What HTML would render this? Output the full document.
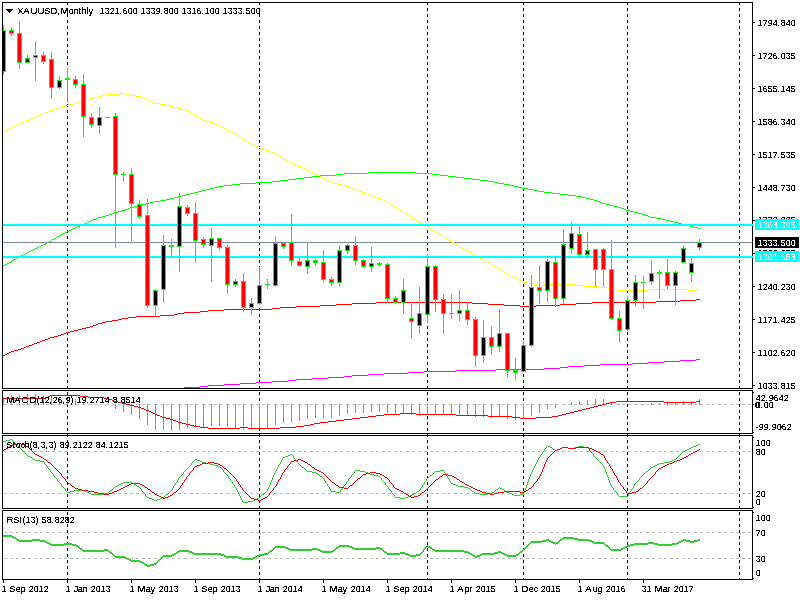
<!DOCTYPE html>
<html lang="en"><head><meta charset="utf-8"><title>XAUUSD, Monthly</title>
<style>
html,body{margin:0;padding:0;background:#fff;width:800px;height:600px;overflow:hidden}
svg{display:block;position:absolute;left:0;top:0}
text{font-family:"Liberation Sans","DejaVu Sans",sans-serif;font-size:9.5px;fill:#000;white-space:pre}
.w{fill:#fff}
</style></head>
<body>
<svg width="800" height="600" viewBox="0 0 800 600" shape-rendering="crispEdges" stroke-width="1">
<rect width="800" height="600" fill="#fff"/>
<g id="separators"><path d="M67.5 3v2M67.5 8v3M67.5 14v3M67.5 20v3M67.5 26v3M67.5 32v3M67.5 38v3M67.5 44v3M67.5 50v3M67.5 56v3M67.5 62v3M67.5 68v3M67.5 74v3M67.5 80v3M67.5 86v3M67.5 92v3M67.5 98v3M67.5 104v3M67.5 110v3M67.5 116v3M67.5 122v3M67.5 128v3M67.5 134v3M67.5 140v3M67.5 146v3M67.5 152v3M67.5 158v3M67.5 164v3M67.5 170v3M67.5 176v3M67.5 182v3M67.5 188v3M67.5 194v3M67.5 200v3M67.5 206v3M67.5 212v3M67.5 218v3M67.5 224v3M67.5 230v3M67.5 236v3M67.5 242v3M67.5 248v3M67.5 254v3M67.5 260v3M67.5 266v3M67.5 272v3M67.5 278v3M67.5 284v3M67.5 290v3M67.5 296v3M67.5 302v3M67.5 308v3M67.5 314v3M67.5 320v3M67.5 326v3M67.5 332v3M67.5 338v3M67.5 344v3M67.5 350v3M67.5 356v3M67.5 362v3M67.5 368v3M67.5 374v3M67.5 380v3M67.5 386v3M67.5 392v3M67.5 398v3M67.5 404v3M67.5 410v3M67.5 416v3M67.5 422v3M67.5 428v3M67.5 434v3M67.5 440v3M67.5 446v3M67.5 452v3M67.5 458v3M67.5 464v3M67.5 470v3M67.5 476v3M67.5 482v3M67.5 488v3M67.5 494v3M67.5 500v3M67.5 506v3M67.5 512v3M67.5 518v3M67.5 524v3M67.5 530v3M67.5 536v3M67.5 542v3M67.5 548v3M67.5 554v3M67.5 560v3M67.5 566v3M67.5 572v3M67.5 578v1M259.5 3v2M259.5 8v3M259.5 14v3M259.5 20v3M259.5 26v3M259.5 32v3M259.5 38v3M259.5 44v3M259.5 50v3M259.5 56v3M259.5 62v3M259.5 68v3M259.5 74v3M259.5 80v3M259.5 86v3M259.5 92v3M259.5 98v3M259.5 104v3M259.5 110v3M259.5 116v3M259.5 122v3M259.5 128v3M259.5 134v3M259.5 140v3M259.5 146v3M259.5 152v3M259.5 158v3M259.5 164v3M259.5 170v3M259.5 176v3M259.5 182v3M259.5 188v3M259.5 194v3M259.5 200v3M259.5 206v3M259.5 212v3M259.5 218v3M259.5 224v3M259.5 230v3M259.5 236v3M259.5 242v3M259.5 248v3M259.5 254v3M259.5 260v3M259.5 266v3M259.5 272v3M259.5 278v3M259.5 284v3M259.5 290v3M259.5 296v3M259.5 302v3M259.5 308v3M259.5 314v3M259.5 320v3M259.5 326v3M259.5 332v3M259.5 338v3M259.5 344v3M259.5 350v3M259.5 356v3M259.5 362v3M259.5 368v3M259.5 374v3M259.5 380v3M259.5 386v3M259.5 392v3M259.5 398v3M259.5 404v3M259.5 410v3M259.5 416v3M259.5 422v3M259.5 428v3M259.5 434v3M259.5 440v3M259.5 446v3M259.5 452v3M259.5 458v3M259.5 464v3M259.5 470v3M259.5 476v3M259.5 482v3M259.5 488v3M259.5 494v3M259.5 500v3M259.5 506v3M259.5 512v3M259.5 518v3M259.5 524v3M259.5 530v3M259.5 536v3M259.5 542v3M259.5 548v3M259.5 554v3M259.5 560v3M259.5 566v3M259.5 572v3M259.5 578v1M427.5 3v2M427.5 8v3M427.5 14v3M427.5 20v3M427.5 26v3M427.5 32v3M427.5 38v3M427.5 44v3M427.5 50v3M427.5 56v3M427.5 62v3M427.5 68v3M427.5 74v3M427.5 80v3M427.5 86v3M427.5 92v3M427.5 98v3M427.5 104v3M427.5 110v3M427.5 116v3M427.5 122v3M427.5 128v3M427.5 134v3M427.5 140v3M427.5 146v3M427.5 152v3M427.5 158v3M427.5 164v3M427.5 170v3M427.5 176v3M427.5 182v3M427.5 188v3M427.5 194v3M427.5 200v3M427.5 206v3M427.5 212v3M427.5 218v3M427.5 224v3M427.5 230v3M427.5 236v3M427.5 242v3M427.5 248v3M427.5 254v3M427.5 260v3M427.5 266v3M427.5 272v3M427.5 278v3M427.5 284v3M427.5 290v3M427.5 296v3M427.5 302v3M427.5 308v3M427.5 314v3M427.5 320v3M427.5 326v3M427.5 332v3M427.5 338v3M427.5 344v3M427.5 350v3M427.5 356v3M427.5 362v3M427.5 368v3M427.5 374v3M427.5 380v3M427.5 386v3M427.5 392v3M427.5 398v3M427.5 404v3M427.5 410v3M427.5 416v3M427.5 422v3M427.5 428v3M427.5 434v3M427.5 440v3M427.5 446v3M427.5 452v3M427.5 458v3M427.5 464v3M427.5 470v3M427.5 476v3M427.5 482v3M427.5 488v3M427.5 494v3M427.5 500v3M427.5 506v3M427.5 512v3M427.5 518v3M427.5 524v3M427.5 530v3M427.5 536v3M427.5 542v3M427.5 548v3M427.5 554v3M427.5 560v3M427.5 566v3M427.5 572v3M427.5 578v1M523.5 3v2M523.5 8v3M523.5 14v3M523.5 20v3M523.5 26v3M523.5 32v3M523.5 38v3M523.5 44v3M523.5 50v3M523.5 56v3M523.5 62v3M523.5 68v3M523.5 74v3M523.5 80v3M523.5 86v3M523.5 92v3M523.5 98v3M523.5 104v3M523.5 110v3M523.5 116v3M523.5 122v3M523.5 128v3M523.5 134v3M523.5 140v3M523.5 146v3M523.5 152v3M523.5 158v3M523.5 164v3M523.5 170v3M523.5 176v3M523.5 182v3M523.5 188v3M523.5 194v3M523.5 200v3M523.5 206v3M523.5 212v3M523.5 218v3M523.5 224v3M523.5 230v3M523.5 236v3M523.5 242v3M523.5 248v3M523.5 254v3M523.5 260v3M523.5 266v3M523.5 272v3M523.5 278v3M523.5 284v3M523.5 290v3M523.5 296v3M523.5 302v3M523.5 308v3M523.5 314v3M523.5 320v3M523.5 326v3M523.5 332v3M523.5 338v3M523.5 344v3M523.5 350v3M523.5 356v3M523.5 362v3M523.5 368v3M523.5 374v3M523.5 380v3M523.5 386v3M523.5 392v3M523.5 398v3M523.5 404v3M523.5 410v3M523.5 416v3M523.5 422v3M523.5 428v3M523.5 434v3M523.5 440v3M523.5 446v3M523.5 452v3M523.5 458v3M523.5 464v3M523.5 470v3M523.5 476v3M523.5 482v3M523.5 488v3M523.5 494v3M523.5 500v3M523.5 506v3M523.5 512v3M523.5 518v3M523.5 524v3M523.5 530v3M523.5 536v3M523.5 542v3M523.5 548v3M523.5 554v3M523.5 560v3M523.5 566v3M523.5 572v3M523.5 578v1M627.5 3v2M627.5 8v3M627.5 14v3M627.5 20v3M627.5 26v3M627.5 32v3M627.5 38v3M627.5 44v3M627.5 50v3M627.5 56v3M627.5 62v3M627.5 68v3M627.5 74v3M627.5 80v3M627.5 86v3M627.5 92v3M627.5 98v3M627.5 104v3M627.5 110v3M627.5 116v3M627.5 122v3M627.5 128v3M627.5 134v3M627.5 140v3M627.5 146v3M627.5 152v3M627.5 158v3M627.5 164v3M627.5 170v3M627.5 176v3M627.5 182v3M627.5 188v3M627.5 194v3M627.5 200v3M627.5 206v3M627.5 212v3M627.5 218v3M627.5 224v3M627.5 230v3M627.5 236v3M627.5 242v3M627.5 248v3M627.5 254v3M627.5 260v3M627.5 266v3M627.5 272v3M627.5 278v3M627.5 284v3M627.5 290v3M627.5 296v3M627.5 302v3M627.5 308v3M627.5 314v3M627.5 320v3M627.5 326v3M627.5 332v3M627.5 338v3M627.5 344v3M627.5 350v3M627.5 356v3M627.5 362v3M627.5 368v3M627.5 374v3M627.5 380v3M627.5 386v3M627.5 392v3M627.5 398v3M627.5 404v3M627.5 410v3M627.5 416v3M627.5 422v3M627.5 428v3M627.5 434v3M627.5 440v3M627.5 446v3M627.5 452v3M627.5 458v3M627.5 464v3M627.5 470v3M627.5 476v3M627.5 482v3M627.5 488v3M627.5 494v3M627.5 500v3M627.5 506v3M627.5 512v3M627.5 518v3M627.5 524v3M627.5 530v3M627.5 536v3M627.5 542v3M627.5 548v3M627.5 554v3M627.5 560v3M627.5 566v3M627.5 572v3M627.5 578v1M739.5 3v2M739.5 8v3M739.5 14v3M739.5 20v3M739.5 26v3M739.5 32v3M739.5 38v3M739.5 44v3M739.5 50v3M739.5 56v3M739.5 62v3M739.5 68v3M739.5 74v3M739.5 80v3M739.5 86v3M739.5 92v3M739.5 98v3M739.5 104v3M739.5 110v3M739.5 116v3M739.5 122v3M739.5 128v3M739.5 134v3M739.5 140v3M739.5 146v3M739.5 152v3M739.5 158v3M739.5 164v3M739.5 170v3M739.5 176v3M739.5 182v3M739.5 188v3M739.5 194v3M739.5 200v3M739.5 206v3M739.5 212v3M739.5 218v3M739.5 224v3M739.5 230v3M739.5 236v3M739.5 242v3M739.5 248v3M739.5 254v3M739.5 260v3M739.5 266v3M739.5 272v3M739.5 278v3M739.5 284v3M739.5 290v3M739.5 296v3M739.5 302v3M739.5 308v3M739.5 314v3M739.5 320v3M739.5 326v3M739.5 332v3M739.5 338v3M739.5 344v3M739.5 350v3M739.5 356v3M739.5 362v3M739.5 368v3M739.5 374v3M739.5 380v3M739.5 386v3M739.5 392v3M739.5 398v3M739.5 404v3M739.5 410v3M739.5 416v3M739.5 422v3M739.5 428v3M739.5 434v3M739.5 440v3M739.5 446v3M739.5 452v3M739.5 458v3M739.5 464v3M739.5 470v3M739.5 476v3M739.5 482v3M739.5 488v3M739.5 494v3M739.5 500v3M739.5 506v3M739.5 512v3M739.5 518v3M739.5 524v3M739.5 530v3M739.5 536v3M739.5 542v3M739.5 548v3M739.5 554v3M739.5 560v3M739.5 566v3M739.5 572v3M739.5 578v1" stroke="#000000" fill="none"/></g>
<g id="levels"><path d="M4 404.5h3M10 404.5h3M16 404.5h3M22 404.5h3M28 404.5h3M34 404.5h3M40 404.5h3M46 404.5h3M52 404.5h3M58 404.5h3M64 404.5h3M70 404.5h3M76 404.5h3M82 404.5h3M88 404.5h3M94 404.5h3M100 404.5h3M106 404.5h3M112 404.5h3M118 404.5h3M124 404.5h3M130 404.5h3M136 404.5h3M142 404.5h3M148 404.5h3M154 404.5h3M160 404.5h3M166 404.5h3M172 404.5h3M178 404.5h3M184 404.5h3M190 404.5h3M196 404.5h3M202 404.5h3M208 404.5h3M214 404.5h3M220 404.5h3M226 404.5h3M232 404.5h3M238 404.5h3M244 404.5h3M250 404.5h3M256 404.5h3M262 404.5h3M268 404.5h3M274 404.5h3M280 404.5h3M286 404.5h3M292 404.5h3M298 404.5h3M304 404.5h3M310 404.5h3M316 404.5h3M322 404.5h3M328 404.5h3M334 404.5h3M340 404.5h3M346 404.5h3M352 404.5h3M358 404.5h3M364 404.5h3M370 404.5h3M376 404.5h3M382 404.5h3M388 404.5h3M394 404.5h3M400 404.5h3M406 404.5h3M412 404.5h3M418 404.5h3M424 404.5h3M430 404.5h3M436 404.5h3M442 404.5h3M448 404.5h3M454 404.5h3M460 404.5h3M466 404.5h3M472 404.5h3M478 404.5h3M484 404.5h3M490 404.5h3M496 404.5h3M502 404.5h3M508 404.5h3M514 404.5h3M520 404.5h3M526 404.5h3M532 404.5h3M538 404.5h3M544 404.5h3M550 404.5h3M556 404.5h3M562 404.5h3M568 404.5h3M574 404.5h3M580 404.5h3M586 404.5h3M592 404.5h3M598 404.5h3M604 404.5h3M610 404.5h3M616 404.5h3M622 404.5h3M628 404.5h3M634 404.5h3M640 404.5h3M646 404.5h3M652 404.5h3M658 404.5h3M664 404.5h3M670 404.5h3M676 404.5h3M682 404.5h3M688 404.5h3M694 404.5h3M700 404.5h3M706 404.5h3M712 404.5h3M718 404.5h3M724 404.5h3M730 404.5h3M736 404.5h3M742 404.5h3M748 404.5h3M4 451.5h3M10 451.5h3M16 451.5h3M22 451.5h3M28 451.5h3M34 451.5h3M40 451.5h3M46 451.5h3M52 451.5h3M58 451.5h3M64 451.5h3M70 451.5h3M76 451.5h3M82 451.5h3M88 451.5h3M94 451.5h3M100 451.5h3M106 451.5h3M112 451.5h3M118 451.5h3M124 451.5h3M130 451.5h3M136 451.5h3M142 451.5h3M148 451.5h3M154 451.5h3M160 451.5h3M166 451.5h3M172 451.5h3M178 451.5h3M184 451.5h3M190 451.5h3M196 451.5h3M202 451.5h3M208 451.5h3M214 451.5h3M220 451.5h3M226 451.5h3M232 451.5h3M238 451.5h3M244 451.5h3M250 451.5h3M256 451.5h3M262 451.5h3M268 451.5h3M274 451.5h3M280 451.5h3M286 451.5h3M292 451.5h3M298 451.5h3M304 451.5h3M310 451.5h3M316 451.5h3M322 451.5h3M328 451.5h3M334 451.5h3M340 451.5h3M346 451.5h3M352 451.5h3M358 451.5h3M364 451.5h3M370 451.5h3M376 451.5h3M382 451.5h3M388 451.5h3M394 451.5h3M400 451.5h3M406 451.5h3M412 451.5h3M418 451.5h3M424 451.5h3M430 451.5h3M436 451.5h3M442 451.5h3M448 451.5h3M454 451.5h3M460 451.5h3M466 451.5h3M472 451.5h3M478 451.5h3M484 451.5h3M490 451.5h3M496 451.5h3M502 451.5h3M508 451.5h3M514 451.5h3M520 451.5h3M526 451.5h3M532 451.5h3M538 451.5h3M544 451.5h3M550 451.5h3M556 451.5h3M562 451.5h3M568 451.5h3M574 451.5h3M580 451.5h3M586 451.5h3M592 451.5h3M598 451.5h3M604 451.5h3M610 451.5h3M616 451.5h3M622 451.5h3M628 451.5h3M634 451.5h3M640 451.5h3M646 451.5h3M652 451.5h3M658 451.5h3M664 451.5h3M670 451.5h3M676 451.5h3M682 451.5h3M688 451.5h3M694 451.5h3M700 451.5h3M706 451.5h3M712 451.5h3M718 451.5h3M724 451.5h3M730 451.5h3M736 451.5h3M742 451.5h3M748 451.5h3M4 493.5h3M10 493.5h3M16 493.5h3M22 493.5h3M28 493.5h3M34 493.5h3M40 493.5h3M46 493.5h3M52 493.5h3M58 493.5h3M64 493.5h3M70 493.5h3M76 493.5h3M82 493.5h3M88 493.5h3M94 493.5h3M100 493.5h3M106 493.5h3M112 493.5h3M118 493.5h3M124 493.5h3M130 493.5h3M136 493.5h3M142 493.5h3M148 493.5h3M154 493.5h3M160 493.5h3M166 493.5h3M172 493.5h3M178 493.5h3M184 493.5h3M190 493.5h3M196 493.5h3M202 493.5h3M208 493.5h3M214 493.5h3M220 493.5h3M226 493.5h3M232 493.5h3M238 493.5h3M244 493.5h3M250 493.5h3M256 493.5h3M262 493.5h3M268 493.5h3M274 493.5h3M280 493.5h3M286 493.5h3M292 493.5h3M298 493.5h3M304 493.5h3M310 493.5h3M316 493.5h3M322 493.5h3M328 493.5h3M334 493.5h3M340 493.5h3M346 493.5h3M352 493.5h3M358 493.5h3M364 493.5h3M370 493.5h3M376 493.5h3M382 493.5h3M388 493.5h3M394 493.5h3M400 493.5h3M406 493.5h3M412 493.5h3M418 493.5h3M424 493.5h3M430 493.5h3M436 493.5h3M442 493.5h3M448 493.5h3M454 493.5h3M460 493.5h3M466 493.5h3M472 493.5h3M478 493.5h3M484 493.5h3M490 493.5h3M496 493.5h3M502 493.5h3M508 493.5h3M514 493.5h3M520 493.5h3M526 493.5h3M532 493.5h3M538 493.5h3M544 493.5h3M550 493.5h3M556 493.5h3M562 493.5h3M568 493.5h3M574 493.5h3M580 493.5h3M586 493.5h3M592 493.5h3M598 493.5h3M604 493.5h3M610 493.5h3M616 493.5h3M622 493.5h3M628 493.5h3M634 493.5h3M640 493.5h3M646 493.5h3M652 493.5h3M658 493.5h3M664 493.5h3M670 493.5h3M676 493.5h3M682 493.5h3M688 493.5h3M694 493.5h3M700 493.5h3M706 493.5h3M712 493.5h3M718 493.5h3M724 493.5h3M730 493.5h3M736 493.5h3M742 493.5h3M748 493.5h3M4 532.5h3M10 532.5h3M16 532.5h3M22 532.5h3M28 532.5h3M34 532.5h3M40 532.5h3M46 532.5h3M52 532.5h3M58 532.5h3M64 532.5h3M70 532.5h3M76 532.5h3M82 532.5h3M88 532.5h3M94 532.5h3M100 532.5h3M106 532.5h3M112 532.5h3M118 532.5h3M124 532.5h3M130 532.5h3M136 532.5h3M142 532.5h3M148 532.5h3M154 532.5h3M160 532.5h3M166 532.5h3M172 532.5h3M178 532.5h3M184 532.5h3M190 532.5h3M196 532.5h3M202 532.5h3M208 532.5h3M214 532.5h3M220 532.5h3M226 532.5h3M232 532.5h3M238 532.5h3M244 532.5h3M250 532.5h3M256 532.5h3M262 532.5h3M268 532.5h3M274 532.5h3M280 532.5h3M286 532.5h3M292 532.5h3M298 532.5h3M304 532.5h3M310 532.5h3M316 532.5h3M322 532.5h3M328 532.5h3M334 532.5h3M340 532.5h3M346 532.5h3M352 532.5h3M358 532.5h3M364 532.5h3M370 532.5h3M376 532.5h3M382 532.5h3M388 532.5h3M394 532.5h3M400 532.5h3M406 532.5h3M412 532.5h3M418 532.5h3M424 532.5h3M430 532.5h3M436 532.5h3M442 532.5h3M448 532.5h3M454 532.5h3M460 532.5h3M466 532.5h3M472 532.5h3M478 532.5h3M484 532.5h3M490 532.5h3M496 532.5h3M502 532.5h3M508 532.5h3M514 532.5h3M520 532.5h3M526 532.5h3M532 532.5h3M538 532.5h3M544 532.5h3M550 532.5h3M556 532.5h3M562 532.5h3M568 532.5h3M574 532.5h3M580 532.5h3M586 532.5h3M592 532.5h3M598 532.5h3M604 532.5h3M610 532.5h3M616 532.5h3M622 532.5h3M628 532.5h3M634 532.5h3M640 532.5h3M646 532.5h3M652 532.5h3M658 532.5h3M664 532.5h3M670 532.5h3M676 532.5h3M682 532.5h3M688 532.5h3M694 532.5h3M700 532.5h3M706 532.5h3M712 532.5h3M718 532.5h3M724 532.5h3M730 532.5h3M736 532.5h3M742 532.5h3M748 532.5h3M4 558.5h3M10 558.5h3M16 558.5h3M22 558.5h3M28 558.5h3M34 558.5h3M40 558.5h3M46 558.5h3M52 558.5h3M58 558.5h3M64 558.5h3M70 558.5h3M76 558.5h3M82 558.5h3M88 558.5h3M94 558.5h3M100 558.5h3M106 558.5h3M112 558.5h3M118 558.5h3M124 558.5h3M130 558.5h3M136 558.5h3M142 558.5h3M148 558.5h3M154 558.5h3M160 558.5h3M166 558.5h3M172 558.5h3M178 558.5h3M184 558.5h3M190 558.5h3M196 558.5h3M202 558.5h3M208 558.5h3M214 558.5h3M220 558.5h3M226 558.5h3M232 558.5h3M238 558.5h3M244 558.5h3M250 558.5h3M256 558.5h3M262 558.5h3M268 558.5h3M274 558.5h3M280 558.5h3M286 558.5h3M292 558.5h3M298 558.5h3M304 558.5h3M310 558.5h3M316 558.5h3M322 558.5h3M328 558.5h3M334 558.5h3M340 558.5h3M346 558.5h3M352 558.5h3M358 558.5h3M364 558.5h3M370 558.5h3M376 558.5h3M382 558.5h3M388 558.5h3M394 558.5h3M400 558.5h3M406 558.5h3M412 558.5h3M418 558.5h3M424 558.5h3M430 558.5h3M436 558.5h3M442 558.5h3M448 558.5h3M454 558.5h3M460 558.5h3M466 558.5h3M472 558.5h3M478 558.5h3M484 558.5h3M490 558.5h3M496 558.5h3M502 558.5h3M508 558.5h3M514 558.5h3M520 558.5h3M526 558.5h3M532 558.5h3M538 558.5h3M544 558.5h3M550 558.5h3M556 558.5h3M562 558.5h3M568 558.5h3M574 558.5h3M580 558.5h3M586 558.5h3M592 558.5h3M598 558.5h3M604 558.5h3M610 558.5h3M616 558.5h3M622 558.5h3M628 558.5h3M634 558.5h3M640 558.5h3M646 558.5h3M652 558.5h3M658 558.5h3M664 558.5h3M670 558.5h3M676 558.5h3M682 558.5h3M688 558.5h3M694 558.5h3M700 558.5h3M706 558.5h3M712 558.5h3M718 558.5h3M724 558.5h3M730 558.5h3M736 558.5h3M742 558.5h3M748 558.5h3" stroke="#c0c0c0" fill="none"/></g>
<g id="bid"><path d="M3 242.5h749" stroke="#778899" fill="none"/></g>
<g id="ma"><path d="M120 93.5h6M106 94.5h14M126 94.5h4M102 95.5h4M130 95.5h6M98 96.5h4M136 96.5h5M94 97.5h4M141 97.5h2M90 98.5h4M143 98.5h2M86 99.5h4M145 99.5h2M82 100.5h4M147 100.5h2M80 101.5h2M149 101.5h3M77 102.5h3M152 102.5h2M74 103.5h3M154 103.5h6M70 104.5h4M160 104.5h6M66 105.5h4M166 105.5h4M62 106.5h4M170 106.5h4M58 107.5h4M174 107.5h4M56 108.5h2M178 108.5h4M53 109.5h3M182 109.5h4M50 110.5h3M186 110.5h2M48 111.5h2M188 111.5h2M45 112.5h3M190 112.5h2M42 113.5h3M40 114.5h2M193 114.5h2M37 115.5h3M35 116.5h2M196 116.5h2M33 117.5h2M198 117.5h2M31 118.5h2M29 119.5h2M201 119.5h2M26 120.5h3M203 120.5h3M24 121.5h2M206 121.5h4M21 122.5h3M210 122.5h3M19 123.5h2M213 123.5h3M17 124.5h2M216 124.5h2M15 125.5h2M218 125.5h2M13 126.5h2M220 126.5h2M11 127.5h2M222 127.5h2M9 128.5h2M225 129.5h2M6 130.5h2M227 130.5h2M4 131.5h2M229 131.5h3M232 132.5h2M234 133.5h2M236 134.5h2M240 137.5h2M244 140.5h2M246 141.5h2M249 143.5h2M251 144.5h2M253 145.5h3M256 146.5h2M258 147.5h3M261 148.5h3M264 149.5h2M266 150.5h3M269 151.5h2M271 152.5h2M273 153.5h2M275 154.5h2M277 155.5h2M279 156.5h2M281 157.5h2M284 159.5h2M286 160.5h2M289 162.5h2M291 163.5h2M293 164.5h3M296 165.5h2M298 166.5h3M301 167.5h2M303 168.5h2M305 169.5h2M307 170.5h2M309 171.5h2M311 172.5h2M313 173.5h2M315 174.5h2M317 175.5h2M319 176.5h2M321 177.5h2M323 178.5h2M325 179.5h2M327 180.5h2M329 181.5h2M331 182.5h3M334 183.5h4M338 184.5h4M342 185.5h4M346 186.5h3M349 187.5h3M352 188.5h2M354 189.5h3M357 190.5h3M360 191.5h2M362 192.5h3M365 193.5h3M368 194.5h2M370 195.5h3M373 196.5h3M376 197.5h2M378 198.5h3M381 199.5h2M383 200.5h2M385 201.5h2M388 203.5h2M390 204.5h2M393 206.5h2M396 208.5h2M398 209.5h2M401 211.5h2M404 213.5h2M406 214.5h2M409 216.5h2M412 218.5h2M414 219.5h2M417 221.5h2M419 222.5h2M421 223.5h2M423 224.5h2M425 225.5h2M428 227.5h2M432 230.5h2M435 232.5h2M437 233.5h2M439 234.5h2M441 235.5h2M444 237.5h2M446 238.5h2M449 240.5h2M452 242.5h2M454 243.5h2M457 245.5h2M460 247.5h2M462 248.5h2M465 250.5h2M467 251.5h2M469 252.5h2M471 253.5h2M473 254.5h2M476 256.5h2M478 257.5h2M481 259.5h2M483 260.5h2M485 261.5h2M487 262.5h2M489 263.5h2M492 265.5h2M494 266.5h2M497 268.5h2M500 270.5h2M502 271.5h2M505 273.5h2M507 274.5h2M509 275.5h2M511 276.5h2M513 277.5h2M515 278.5h2M517 279.5h2M519 280.5h2M521 281.5h2M523 282.5h5M528 283.5h6M534 284.5h4M544 284.5h32M538 285.5h6M576 285.5h8M584 286.5h16M600 287.5h8M608 288.5h6M614 289.5h4M648 289.5h40M696 289.5h4M618 290.5h30M688 290.5h8M3.5 132v1M8.5 129v1M192.5 113v1M195.5 115v1M200.5 118v1M224.5 128v1M238.5 135v1M239.5 136v1M242.5 138v1M243.5 139v1M248.5 142v1M283.5 158v1M288.5 161v1M387.5 202v1M392.5 205v1M395.5 207v1M400.5 210v1M403.5 212v1M408.5 215v1M411.5 217v1M416.5 220v1M427.5 226v1M430.5 228v1M431.5 229v1M434.5 231v1M443.5 236v1M448.5 239v1M451.5 241v1M456.5 244v1M459.5 246v1M464.5 249v1M475.5 255v1M480.5 258v1M491.5 264v1M496.5 267v1M499.5 269v1M504.5 272v1" stroke="#ffff00" fill="none"/><path d="M368 172.5h48M344 173.5h24M416 173.5h16M336 174.5h8M432 174.5h8M320 175.5h16M440 175.5h8M312 176.5h8M448 176.5h8M304 177.5h8M456 177.5h8M296 178.5h8M464 178.5h8M288 179.5h8M472 179.5h8M280 180.5h8M480 180.5h8M272 181.5h8M488 181.5h6M256 182.5h16M494 182.5h4M240 183.5h16M498 183.5h6M232 184.5h8M504 184.5h6M224 185.5h8M510 185.5h4M218 186.5h6M514 186.5h4M214 187.5h4M518 187.5h4M210 188.5h4M522 188.5h6M206 189.5h4M528 189.5h6M202 190.5h4M534 190.5h4M198 191.5h4M538 191.5h6M194 192.5h4M544 192.5h8M190 193.5h4M552 193.5h8M186 194.5h4M560 194.5h8M182 195.5h4M568 195.5h8M178 196.5h4M576 196.5h6M174 197.5h4M582 197.5h4M170 198.5h4M586 198.5h4M166 199.5h4M590 199.5h4M160 200.5h6M594 200.5h3M154 201.5h6M597 201.5h3M150 202.5h4M600 202.5h2M146 203.5h4M602 203.5h4M142 204.5h4M606 204.5h4M138 205.5h4M610 205.5h4M134 206.5h4M614 206.5h4M130 207.5h4M618 207.5h3M128 208.5h2M621 208.5h3M125 209.5h3M624 209.5h2M122 210.5h3M626 210.5h4M118 211.5h4M630 211.5h4M114 212.5h4M634 212.5h4M112 213.5h2M638 213.5h4M109 214.5h3M642 214.5h3M106 215.5h3M645 215.5h3M102 216.5h4M648 216.5h2M98 217.5h4M650 217.5h6M96 218.5h2M656 218.5h6M93 219.5h3M662 219.5h4M91 220.5h2M666 220.5h4M89 221.5h2M670 221.5h4M87 222.5h2M674 222.5h4M85 223.5h2M678 223.5h4M82 224.5h3M682 224.5h4M80 225.5h2M686 225.5h4M77 226.5h3M690 226.5h4M75 227.5h2M694 227.5h4M73 228.5h2M698 228.5h2M71 229.5h2M69 230.5h2M67 231.5h2M65 232.5h2M63 233.5h2M61 234.5h2M59 235.5h2M57 236.5h2M54 238.5h2M52 239.5h2M49 241.5h2M47 242.5h2M45 243.5h2M43 244.5h2M41 245.5h2M39 246.5h2M37 247.5h2M35 248.5h2M33 249.5h2M31 250.5h2M29 251.5h2M27 252.5h2M25 253.5h2M23 254.5h2M21 255.5h2M19 256.5h2M17 257.5h2M14 259.5h2M12 260.5h2M9 262.5h2M7 263.5h2M5 264.5h2M3 265.5h2M11.5 261v1M16.5 258v1M51.5 240v1M56.5 237v1" stroke="#00ff00" fill="none"/><path d="M696 299.5h4M680 300.5h16M656 301.5h24M376 302.5h96M592 302.5h64M352 303.5h24M472 303.5h16M576 303.5h16M336 304.5h16M488 304.5h16M560 304.5h16M320 305.5h16M504 305.5h16M536 305.5h24M296 306.5h24M520 306.5h16M280 307.5h16M272 308.5h8M224 309.5h48M208 310.5h16M200 311.5h8M184 312.5h16M178 313.5h6M174 314.5h4M160 315.5h14M136 316.5h24M128 317.5h8M122 318.5h6M118 319.5h4M112 320.5h6M106 321.5h6M102 322.5h4M98 323.5h4M96 324.5h2M93 325.5h3M90 326.5h3M86 327.5h4M82 328.5h4M78 329.5h4M74 330.5h4M70 331.5h4M66 332.5h4M64 333.5h2M61 334.5h3M58 335.5h3M54 336.5h4M50 337.5h4M48 338.5h2M45 339.5h3M42 340.5h3M40 341.5h2M37 342.5h3M34 343.5h3M32 344.5h2M29 345.5h3M26 346.5h3M24 347.5h2M21 348.5h3M18 349.5h3M14 350.5h4M11 351.5h3M9 352.5h2M7 353.5h2M5 354.5h2M3 355.5h2" stroke="#ff0000" fill="none"/><path d="M696 359.5h4M680 360.5h16M664 361.5h16M648 362.5h16M632 363.5h16M600 364.5h32M584 365.5h16M568 366.5h16M560 367.5h8M544 368.5h16M496 369.5h48M456 370.5h40M424 371.5h32M408 372.5h16M384 373.5h24M368 374.5h16M352 375.5h16M344 376.5h8M328 377.5h16M312 378.5h16M296 379.5h16M288 380.5h8M272 381.5h16M256 382.5h16M240 383.5h16M224 384.5h16M208 385.5h16M200 386.5h8M184 387.5h16" stroke="#ff00ff" fill="none"/></g>
<g id="hlines"><path d="M3 224.5h749M3 225.5h749M3 256.5h749M3 257.5h749" stroke="#00ffff" fill="none"/></g>
<g id="candles"><path d="M3 30.5h3M9 30.5h5M9 33.5h5M17 33.5h5M33 55.5h5M41 55.5h5M33 57.5h5M25 58.5h5M49 59.5h5M41 61.5h5M17 62.5h5M25 62.5h5M3 71.5h3M65 78.5h5M65 79.5h5M73 79.5h5M57 80.5h5M73 84.5h5M81 84.5h5M49 87.5h5M57 87.5h5M81 116.5h5M113 116.5h5M89 117.5h5M97 117.5h5M105 117.5h5M89 124.5h5M97 125.5h5M113 174.5h5M121 174.5h5M129 174.5h5M129 203.5h5M137 204.5h5M177 206.5h5M185 207.5h5M185 213.5h5M193 213.5h5M145 215.5h5M137 216.5h5M569 233.5h5M577 234.5h5M209 238.5h5M217 238.5h5M201 239.5h5M193 240.5h5M289 242.5h5M697 242.5h5M273 243.5h5M281 243.5h5M201 244.5h5M561 244.5h5M161 245.5h5M169 245.5h5M209 245.5h5M345 245.5h5M353 245.5h5M169 246.5h5M177 246.5h5M281 246.5h5M217 247.5h5M225 247.5h5M697 247.5h5M569 248.5h5M681 248.5h5M593 249.5h5M601 249.5h5M337 250.5h5M345 250.5h5M585 250.5h5M577 254.5h5M585 254.5h5M289 260.5h5M305 260.5h5M313 260.5h5M353 260.5h5M361 260.5h5M297 261.5h5M545 261.5h5M313 262.5h5M321 262.5h5M553 262.5h5M681 262.5h5M369 263.5h5M377 263.5h5M689 263.5h5M377 264.5h5M385 264.5h5M297 265.5h5M305 266.5h5M361 266.5h5M369 266.5h5M425 266.5h5M433 266.5h5M593 269.5h5M601 269.5h5M609 269.5h5M657 272.5h5M665 272.5h5M673 272.5h5M689 272.5h5M649 273.5h5M657 273.5h5M321 279.5h5M329 279.5h5M233 281.5h5M241 281.5h5M649 281.5h5M329 282.5h5M337 282.5h5M633 282.5h5M641 282.5h5M225 284.5h5M233 284.5h5M265 284.5h5M257 285.5h5M273 285.5h5M665 285.5h5M673 285.5h5M529 287.5h5M537 287.5h5M161 289.5h5M153 290.5h5M401 290.5h5M537 290.5h5M545 290.5h5M385 298.5h5M393 298.5h5M553 298.5h5M561 298.5h5M433 299.5h5M441 299.5h5M625 300.5h5M633 300.5h5M393 302.5h5M401 302.5h5M249 303.5h5M257 303.5h5M145 305.5h5M153 305.5h5M241 307.5h5M249 307.5h5M457 310.5h5M465 310.5h5M417 313.5h5M441 313.5h5M449 313.5h5M457 313.5h5M425 314.5h5M409 318.5h5M609 318.5h5M617 318.5h5M465 319.5h5M473 319.5h5M409 321.5h5M417 325.5h5M625 329.5h5M617 330.5h5M497 333.5h5M505 333.5h5M481 337.5h5M489 337.5h5M521 345.5h5M529 345.5h5M489 346.5h5M497 346.5h5M473 355.5h5M481 355.5h5M505 370.5h5M513 370.5h5M521 371.5h5M513 372.5h5M3.5 25v5M3.5 72v3M5.5 31v40M9.5 31v2M11.5 27v3M11.5 34v2M13.5 31v2M17.5 34v28M19.5 21v12M19.5 63v6M21.5 34v28M25.5 59v3M27.5 55v3M29.5 59v3M33.5 56v1M35.5 41v14M35.5 58v23M37.5 56v1M41.5 56v5M43.5 52v3M43.5 62v2M45.5 56v5M49.5 60v27M51.5 52v7M51.5 88v11M53.5 60v27M57.5 81v6M59.5 76v4M59.5 88v1M61.5 81v6M67.5 68v10M67.5 80v23M73.5 80v4M75.5 76v3M75.5 85v3M77.5 80v4M81.5 85v31M83.5 74v10M83.5 117v20M85.5 85v31M89.5 118v6M91.5 113v4M91.5 125v3M93.5 118v6M97.5 118v7M99.5 107v10M99.5 126v8M101.5 118v7M113.5 117v57M115.5 113v3M115.5 175v73M117.5 117v57M123.5 172v2M123.5 175v7M129.5 175v28M131.5 168v6M131.5 204v37M133.5 175v28M137.5 205v11M139.5 200v4M139.5 217v2M141.5 205v11M145.5 216v89M147.5 199v16M147.5 306v2M149.5 216v89M153.5 291v14M155.5 289v1M155.5 306v11M157.5 291v14M161.5 246v43M163.5 235v10M163.5 290v13M165.5 246v43M171.5 239v6M171.5 247v10M177.5 207v39M179.5 193v13M179.5 247v25M181.5 207v39M185.5 208v5M187.5 205v2M187.5 214v2M189.5 208v5M193.5 214v26M195.5 202v11M195.5 241v22M197.5 214v26M201.5 240v4M203.5 237v2M203.5 245v3M205.5 240v4M209.5 239v6M211.5 228v10M211.5 246v36M213.5 239v6M217.5 239v8M219.5 248v2M221.5 239v8M225.5 248v36M227.5 245v2M227.5 285v9M229.5 248v36M233.5 282v2M235.5 279v2M235.5 285v2M237.5 282v2M241.5 282v25M243.5 273v8M243.5 308v4M245.5 282v25M249.5 304v3M251.5 298v5M251.5 308v7M253.5 304v3M257.5 286v17M259.5 267v18M259.5 304v1M261.5 286v17M267.5 279v5M267.5 285v4M273.5 244v41M275.5 236v7M275.5 286v1M277.5 244v41M281.5 244v2M283.5 242v1M283.5 247v2M285.5 244v2M289.5 243v17M291.5 214v28M291.5 261v5M293.5 243v17M297.5 262v3M299.5 258v3M299.5 266v1M301.5 262v3M305.5 261v5M307.5 242v18M307.5 267v7M309.5 261v5M313.5 261v1M315.5 259v1M315.5 263v3M317.5 261v1M321.5 263v16M323.5 250v12M323.5 280v2M325.5 263v16M329.5 280v2M331.5 277v2M331.5 283v3M333.5 280v2M337.5 251v31M339.5 245v5M339.5 283v4M341.5 251v31M345.5 246v4M347.5 244v1M347.5 251v3M349.5 246v4M353.5 246v14M355.5 236v9M355.5 261v4M357.5 246v14M361.5 261v5M363.5 259v1M363.5 267v1M365.5 261v5M369.5 264v2M371.5 247v16M371.5 267v5M373.5 264v2M379.5 262v1M379.5 265v2M385.5 265v33M387.5 263v1M387.5 299v4M389.5 265v33M393.5 299v3M395.5 296v2M395.5 303v1M397.5 299v3M401.5 291v11M403.5 279v11M403.5 303v11M405.5 291v11M409.5 319v2M411.5 302v16M411.5 322v17M413.5 319v2M417.5 314v11M419.5 287v26M419.5 326v8M421.5 314v11M425.5 267v47M427.5 254v12M427.5 315v8M429.5 267v47M433.5 267v32M435.5 265v1M435.5 300v12M437.5 267v32M441.5 300v13M443.5 294v5M443.5 314v20M445.5 300v13M451.5 294v19M451.5 314v5M457.5 311v2M459.5 290v20M459.5 314v7M461.5 311v2M465.5 311v8M467.5 302v8M467.5 320v5M469.5 311v8M473.5 320v35M475.5 317v2M475.5 356v11M477.5 320v35M481.5 338v17M483.5 320v17M483.5 356v7M485.5 338v17M489.5 338v8M491.5 326v11M491.5 347v8M493.5 338v8M497.5 334v12M499.5 309v24M499.5 347v5M501.5 334v12M505.5 334v36M507.5 371v6M509.5 334v36M513.5 371v1M515.5 358v12M515.5 373v7M517.5 371v1M521.5 346v25M523.5 340v5M525.5 346v25M529.5 288v57M531.5 275v12M531.5 346v1M533.5 288v57M537.5 288v2M539.5 265v22M539.5 291v13M541.5 288v2M545.5 262v28M547.5 259v2M547.5 291v11M549.5 262v28M553.5 263v35M555.5 256v6M555.5 299v8M557.5 263v35M561.5 245v53M563.5 229v15M563.5 299v5M565.5 245v53M569.5 234v14M571.5 222v11M571.5 249v5M573.5 234v14M577.5 235v19M579.5 226v8M579.5 255v2M581.5 235v19M585.5 251v3M587.5 232v18M587.5 255v3M589.5 251v3M593.5 250v19M595.5 270v17M597.5 250v19M601.5 250v19M603.5 248v1M603.5 270v17M605.5 250v19M609.5 270v48M611.5 240v29M611.5 319v1M613.5 270v48M617.5 319v11M619.5 311v7M619.5 331v12M621.5 319v11M625.5 301v28M627.5 296v4M627.5 330v1M629.5 301v28M633.5 283v17M635.5 275v7M635.5 301v6M637.5 283v17M643.5 276v6M643.5 283v26M649.5 274v7M651.5 260v13M651.5 282v3M653.5 274v7M659.5 270v2M659.5 274v25M665.5 273v12M667.5 259v13M667.5 286v3M669.5 273v12M673.5 273v12M675.5 271v1M675.5 286v19M677.5 273v12M681.5 249v13M683.5 245v3M685.5 249v13M689.5 264v8M691.5 258v5M691.5 273v9M693.5 264v8M697.5 243v4M699.5 239v3M699.5 248v3M701.5 243v4" stroke="#00ff00" fill="none"/><path d="M10 31.5h3M10 32.5h3M18 34.5h3M18 35.5h3M18 36.5h3M18 37.5h3M18 38.5h3M18 39.5h3M18 40.5h3M18 41.5h3M18 42.5h3M18 43.5h3M18 44.5h3M18 45.5h3M18 46.5h3M18 47.5h3M18 48.5h3M18 49.5h3M18 50.5h3M18 51.5h3M18 52.5h3M18 53.5h3M18 54.5h3M18 55.5h3M18 56.5h3M42 56.5h3M18 57.5h3M42 57.5h3M18 58.5h3M42 58.5h3M18 59.5h3M42 59.5h3M18 60.5h3M42 60.5h3M50 60.5h3M18 61.5h3M50 61.5h3M50 62.5h3M50 63.5h3M50 64.5h3M50 65.5h3M50 66.5h3M50 67.5h3M50 68.5h3M50 69.5h3M50 70.5h3M50 71.5h3M50 72.5h3M50 73.5h3M50 74.5h3M50 75.5h3M50 76.5h3M50 77.5h3M50 78.5h3M50 79.5h3M50 80.5h3M74 80.5h3M50 81.5h3M74 81.5h3M50 82.5h3M74 82.5h3M50 83.5h3M74 83.5h3M50 84.5h3M50 85.5h3M82 85.5h3M50 86.5h3M82 86.5h3M82 87.5h3M82 88.5h3M82 89.5h3M82 90.5h3M82 91.5h3M82 92.5h3M82 93.5h3M82 94.5h3M82 95.5h3M82 96.5h3M82 97.5h3M82 98.5h3M82 99.5h3M82 100.5h3M82 101.5h3M82 102.5h3M82 103.5h3M82 104.5h3M82 105.5h3M82 106.5h3M82 107.5h3M82 108.5h3M82 109.5h3M82 110.5h3M82 111.5h3M82 112.5h3M82 113.5h3M82 114.5h3M82 115.5h3M114 117.5h3M90 118.5h3M114 118.5h3M90 119.5h3M114 119.5h3M90 120.5h3M114 120.5h3M90 121.5h3M114 121.5h3M90 122.5h3M114 122.5h3M90 123.5h3M114 123.5h3M114 124.5h3M114 125.5h3M114 126.5h3M114 127.5h3M114 128.5h3M114 129.5h3M114 130.5h3M114 131.5h3M114 132.5h3M114 133.5h3M114 134.5h3M114 135.5h3M114 136.5h3M114 137.5h3M114 138.5h3M114 139.5h3M114 140.5h3M114 141.5h3M114 142.5h3M114 143.5h3M114 144.5h3M114 145.5h3M114 146.5h3M114 147.5h3M114 148.5h3M114 149.5h3M114 150.5h3M114 151.5h3M114 152.5h3M114 153.5h3M114 154.5h3M114 155.5h3M114 156.5h3M114 157.5h3M114 158.5h3M114 159.5h3M114 160.5h3M114 161.5h3M114 162.5h3M114 163.5h3M114 164.5h3M114 165.5h3M114 166.5h3M114 167.5h3M114 168.5h3M114 169.5h3M114 170.5h3M114 171.5h3M114 172.5h3M114 173.5h3M130 175.5h3M130 176.5h3M130 177.5h3M130 178.5h3M130 179.5h3M130 180.5h3M130 181.5h3M130 182.5h3M130 183.5h3M130 184.5h3M130 185.5h3M130 186.5h3M130 187.5h3M130 188.5h3M130 189.5h3M130 190.5h3M130 191.5h3M130 192.5h3M130 193.5h3M130 194.5h3M130 195.5h3M130 196.5h3M130 197.5h3M130 198.5h3M130 199.5h3M130 200.5h3M130 201.5h3M130 202.5h3M138 205.5h3M138 206.5h3M138 207.5h3M138 208.5h3M186 208.5h3M138 209.5h3M186 209.5h3M138 210.5h3M186 210.5h3M138 211.5h3M186 211.5h3M138 212.5h3M186 212.5h3M138 213.5h3M138 214.5h3M194 214.5h3M138 215.5h3M194 215.5h3M146 216.5h3M194 216.5h3M146 217.5h3M194 217.5h3M146 218.5h3M194 218.5h3M146 219.5h3M194 219.5h3M146 220.5h3M194 220.5h3M146 221.5h3M194 221.5h3M146 222.5h3M194 222.5h3M146 223.5h3M194 223.5h3M146 224.5h3M194 224.5h3M146 225.5h3M194 225.5h3M146 226.5h3M194 226.5h3M146 227.5h3M194 227.5h3M146 228.5h3M194 228.5h3M146 229.5h3M194 229.5h3M146 230.5h3M194 230.5h3M146 231.5h3M194 231.5h3M146 232.5h3M194 232.5h3M146 233.5h3M194 233.5h3M146 234.5h3M194 234.5h3M146 235.5h3M194 235.5h3M578 235.5h3M146 236.5h3M194 236.5h3M578 236.5h3M146 237.5h3M194 237.5h3M578 237.5h3M146 238.5h3M194 238.5h3M578 238.5h3M146 239.5h3M194 239.5h3M218 239.5h3M578 239.5h3M146 240.5h3M202 240.5h3M218 240.5h3M578 240.5h3M146 241.5h3M202 241.5h3M218 241.5h3M578 241.5h3M146 242.5h3M202 242.5h3M218 242.5h3M578 242.5h3M146 243.5h3M202 243.5h3M218 243.5h3M290 243.5h3M578 243.5h3M146 244.5h3M218 244.5h3M282 244.5h3M290 244.5h3M578 244.5h3M146 245.5h3M218 245.5h3M282 245.5h3M290 245.5h3M578 245.5h3M146 246.5h3M218 246.5h3M290 246.5h3M354 246.5h3M578 246.5h3M146 247.5h3M290 247.5h3M354 247.5h3M578 247.5h3M146 248.5h3M226 248.5h3M290 248.5h3M354 248.5h3M578 248.5h3M146 249.5h3M226 249.5h3M290 249.5h3M354 249.5h3M578 249.5h3M146 250.5h3M226 250.5h3M290 250.5h3M354 250.5h3M578 250.5h3M594 250.5h3M602 250.5h3M146 251.5h3M226 251.5h3M290 251.5h3M354 251.5h3M578 251.5h3M594 251.5h3M602 251.5h3M146 252.5h3M226 252.5h3M290 252.5h3M354 252.5h3M578 252.5h3M594 252.5h3M602 252.5h3M146 253.5h3M226 253.5h3M290 253.5h3M354 253.5h3M578 253.5h3M594 253.5h3M602 253.5h3M146 254.5h3M226 254.5h3M290 254.5h3M354 254.5h3M594 254.5h3M602 254.5h3M146 255.5h3M226 255.5h3M290 255.5h3M354 255.5h3M594 255.5h3M602 255.5h3M146 256.5h3M226 256.5h3M290 256.5h3M354 256.5h3M594 256.5h3M602 256.5h3M146 257.5h3M226 257.5h3M290 257.5h3M354 257.5h3M594 257.5h3M602 257.5h3M146 258.5h3M226 258.5h3M290 258.5h3M354 258.5h3M594 258.5h3M602 258.5h3M146 259.5h3M226 259.5h3M290 259.5h3M354 259.5h3M594 259.5h3M602 259.5h3M146 260.5h3M226 260.5h3M594 260.5h3M602 260.5h3M146 261.5h3M226 261.5h3M314 261.5h3M362 261.5h3M594 261.5h3M602 261.5h3M146 262.5h3M226 262.5h3M298 262.5h3M362 262.5h3M594 262.5h3M602 262.5h3M146 263.5h3M226 263.5h3M298 263.5h3M322 263.5h3M362 263.5h3M554 263.5h3M594 263.5h3M602 263.5h3M146 264.5h3M226 264.5h3M298 264.5h3M322 264.5h3M362 264.5h3M554 264.5h3M594 264.5h3M602 264.5h3M146 265.5h3M226 265.5h3M322 265.5h3M362 265.5h3M386 265.5h3M554 265.5h3M594 265.5h3M602 265.5h3M146 266.5h3M226 266.5h3M322 266.5h3M386 266.5h3M554 266.5h3M594 266.5h3M602 266.5h3M146 267.5h3M226 267.5h3M322 267.5h3M386 267.5h3M434 267.5h3M554 267.5h3M594 267.5h3M602 267.5h3M146 268.5h3M226 268.5h3M322 268.5h3M386 268.5h3M434 268.5h3M554 268.5h3M594 268.5h3M602 268.5h3M146 269.5h3M226 269.5h3M322 269.5h3M386 269.5h3M434 269.5h3M554 269.5h3M146 270.5h3M226 270.5h3M322 270.5h3M386 270.5h3M434 270.5h3M554 270.5h3M610 270.5h3M146 271.5h3M226 271.5h3M322 271.5h3M386 271.5h3M434 271.5h3M554 271.5h3M610 271.5h3M146 272.5h3M226 272.5h3M322 272.5h3M386 272.5h3M434 272.5h3M554 272.5h3M610 272.5h3M146 273.5h3M226 273.5h3M322 273.5h3M386 273.5h3M434 273.5h3M554 273.5h3M610 273.5h3M666 273.5h3M146 274.5h3M226 274.5h3M322 274.5h3M386 274.5h3M434 274.5h3M554 274.5h3M610 274.5h3M666 274.5h3M146 275.5h3M226 275.5h3M322 275.5h3M386 275.5h3M434 275.5h3M554 275.5h3M610 275.5h3M666 275.5h3M146 276.5h3M226 276.5h3M322 276.5h3M386 276.5h3M434 276.5h3M554 276.5h3M610 276.5h3M666 276.5h3M146 277.5h3M226 277.5h3M322 277.5h3M386 277.5h3M434 277.5h3M554 277.5h3M610 277.5h3M666 277.5h3M146 278.5h3M226 278.5h3M322 278.5h3M386 278.5h3M434 278.5h3M554 278.5h3M610 278.5h3M666 278.5h3M146 279.5h3M226 279.5h3M386 279.5h3M434 279.5h3M554 279.5h3M610 279.5h3M666 279.5h3M146 280.5h3M226 280.5h3M330 280.5h3M386 280.5h3M434 280.5h3M554 280.5h3M610 280.5h3M666 280.5h3M146 281.5h3M226 281.5h3M330 281.5h3M386 281.5h3M434 281.5h3M554 281.5h3M610 281.5h3M666 281.5h3M146 282.5h3M226 282.5h3M242 282.5h3M386 282.5h3M434 282.5h3M554 282.5h3M610 282.5h3M666 282.5h3M146 283.5h3M226 283.5h3M242 283.5h3M386 283.5h3M434 283.5h3M554 283.5h3M610 283.5h3M666 283.5h3M146 284.5h3M242 284.5h3M386 284.5h3M434 284.5h3M554 284.5h3M610 284.5h3M666 284.5h3M146 285.5h3M242 285.5h3M386 285.5h3M434 285.5h3M554 285.5h3M610 285.5h3M146 286.5h3M242 286.5h3M386 286.5h3M434 286.5h3M554 286.5h3M610 286.5h3M146 287.5h3M242 287.5h3M386 287.5h3M434 287.5h3M554 287.5h3M610 287.5h3M146 288.5h3M242 288.5h3M386 288.5h3M434 288.5h3M538 288.5h3M554 288.5h3M610 288.5h3M146 289.5h3M242 289.5h3M386 289.5h3M434 289.5h3M538 289.5h3M554 289.5h3M610 289.5h3M146 290.5h3M242 290.5h3M386 290.5h3M434 290.5h3M554 290.5h3M610 290.5h3M146 291.5h3M242 291.5h3M386 291.5h3M434 291.5h3M554 291.5h3M610 291.5h3M146 292.5h3M242 292.5h3M386 292.5h3M434 292.5h3M554 292.5h3M610 292.5h3M146 293.5h3M242 293.5h3M386 293.5h3M434 293.5h3M554 293.5h3M610 293.5h3M146 294.5h3M242 294.5h3M386 294.5h3M434 294.5h3M554 294.5h3M610 294.5h3M146 295.5h3M242 295.5h3M386 295.5h3M434 295.5h3M554 295.5h3M610 295.5h3M146 296.5h3M242 296.5h3M386 296.5h3M434 296.5h3M554 296.5h3M610 296.5h3M146 297.5h3M242 297.5h3M386 297.5h3M434 297.5h3M554 297.5h3M610 297.5h3M146 298.5h3M242 298.5h3M434 298.5h3M610 298.5h3M146 299.5h3M242 299.5h3M394 299.5h3M610 299.5h3M146 300.5h3M242 300.5h3M394 300.5h3M442 300.5h3M610 300.5h3M146 301.5h3M242 301.5h3M394 301.5h3M442 301.5h3M610 301.5h3M146 302.5h3M242 302.5h3M442 302.5h3M610 302.5h3M146 303.5h3M242 303.5h3M442 303.5h3M610 303.5h3M146 304.5h3M242 304.5h3M442 304.5h3M610 304.5h3M242 305.5h3M442 305.5h3M610 305.5h3M242 306.5h3M442 306.5h3M610 306.5h3M442 307.5h3M610 307.5h3M442 308.5h3M610 308.5h3M442 309.5h3M610 309.5h3M442 310.5h3M610 310.5h3M442 311.5h3M466 311.5h3M610 311.5h3M442 312.5h3M466 312.5h3M610 312.5h3M466 313.5h3M610 313.5h3M466 314.5h3M610 314.5h3M466 315.5h3M610 315.5h3M466 316.5h3M610 316.5h3M466 317.5h3M610 317.5h3M466 318.5h3M410 319.5h3M618 319.5h3M410 320.5h3M474 320.5h3M618 320.5h3M474 321.5h3M618 321.5h3M474 322.5h3M618 322.5h3M474 323.5h3M618 323.5h3M474 324.5h3M618 324.5h3M474 325.5h3M618 325.5h3M474 326.5h3M618 326.5h3M474 327.5h3M618 327.5h3M474 328.5h3M618 328.5h3M474 329.5h3M618 329.5h3M474 330.5h3M474 331.5h3M474 332.5h3M474 333.5h3M474 334.5h3M506 334.5h3M474 335.5h3M506 335.5h3M474 336.5h3M506 336.5h3M474 337.5h3M506 337.5h3M474 338.5h3M490 338.5h3M506 338.5h3M474 339.5h3M490 339.5h3M506 339.5h3M474 340.5h3M490 340.5h3M506 340.5h3M474 341.5h3M490 341.5h3M506 341.5h3M474 342.5h3M490 342.5h3M506 342.5h3M474 343.5h3M490 343.5h3M506 343.5h3M474 344.5h3M490 344.5h3M506 344.5h3M474 345.5h3M490 345.5h3M506 345.5h3M474 346.5h3M506 346.5h3M474 347.5h3M506 347.5h3M474 348.5h3M506 348.5h3M474 349.5h3M506 349.5h3M474 350.5h3M506 350.5h3M474 351.5h3M506 351.5h3M474 352.5h3M506 352.5h3M474 353.5h3M506 353.5h3M474 354.5h3M506 354.5h3M506 355.5h3M506 356.5h3M506 357.5h3M506 358.5h3M506 359.5h3M506 360.5h3M506 361.5h3M506 362.5h3M506 363.5h3M506 364.5h3M506 365.5h3M506 366.5h3M506 367.5h3M506 368.5h3M506 369.5h3M514 371.5h3" stroke="#ff0000" fill="none"/><path d="M3 31.5h2M3 32.5h2M3 33.5h2M3 34.5h2M3 35.5h2M3 36.5h2M3 37.5h2M3 38.5h2M3 39.5h2M3 40.5h2M3 41.5h2M3 42.5h2M3 43.5h2M3 44.5h2M3 45.5h2M3 46.5h2M3 47.5h2M3 48.5h2M3 49.5h2M3 50.5h2M3 51.5h2M3 52.5h2M3 53.5h2M3 54.5h2M3 55.5h2M3 56.5h2M34 56.5h3M3 57.5h2M3 58.5h2M3 59.5h2M26 59.5h3M3 60.5h2M26 60.5h3M3 61.5h2M26 61.5h3M3 62.5h2M3 63.5h2M3 64.5h2M3 65.5h2M3 66.5h2M3 67.5h2M3 68.5h2M3 69.5h2M3 70.5h2M58 81.5h3M58 82.5h3M58 83.5h3M58 84.5h3M58 85.5h3M58 86.5h3M98 118.5h3M98 119.5h3M98 120.5h3M98 121.5h3M98 122.5h3M98 123.5h3M98 124.5h3M178 207.5h3M178 208.5h3M178 209.5h3M178 210.5h3M178 211.5h3M178 212.5h3M178 213.5h3M178 214.5h3M178 215.5h3M178 216.5h3M178 217.5h3M178 218.5h3M178 219.5h3M178 220.5h3M178 221.5h3M178 222.5h3M178 223.5h3M178 224.5h3M178 225.5h3M178 226.5h3M178 227.5h3M178 228.5h3M178 229.5h3M178 230.5h3M178 231.5h3M178 232.5h3M178 233.5h3M178 234.5h3M570 234.5h3M178 235.5h3M570 235.5h3M178 236.5h3M570 236.5h3M178 237.5h3M570 237.5h3M178 238.5h3M570 238.5h3M178 239.5h3M210 239.5h3M570 239.5h3M178 240.5h3M210 240.5h3M570 240.5h3M178 241.5h3M210 241.5h3M570 241.5h3M178 242.5h3M210 242.5h3M570 242.5h3M178 243.5h3M210 243.5h3M570 243.5h3M698 243.5h3M178 244.5h3M210 244.5h3M274 244.5h3M570 244.5h3M698 244.5h3M178 245.5h3M274 245.5h3M562 245.5h3M570 245.5h3M698 245.5h3M162 246.5h3M274 246.5h3M346 246.5h3M562 246.5h3M570 246.5h3M698 246.5h3M162 247.5h3M274 247.5h3M346 247.5h3M562 247.5h3M570 247.5h3M162 248.5h3M274 248.5h3M346 248.5h3M562 248.5h3M162 249.5h3M274 249.5h3M346 249.5h3M562 249.5h3M682 249.5h3M162 250.5h3M274 250.5h3M562 250.5h3M682 250.5h3M162 251.5h3M274 251.5h3M338 251.5h3M562 251.5h3M586 251.5h3M682 251.5h3M162 252.5h3M274 252.5h3M338 252.5h3M562 252.5h3M586 252.5h3M682 252.5h3M162 253.5h3M274 253.5h3M338 253.5h3M562 253.5h3M586 253.5h3M682 253.5h3M162 254.5h3M274 254.5h3M338 254.5h3M562 254.5h3M682 254.5h3M162 255.5h3M274 255.5h3M338 255.5h3M562 255.5h3M682 255.5h3M162 256.5h3M274 256.5h3M338 256.5h3M562 256.5h3M682 256.5h3M162 257.5h3M274 257.5h3M338 257.5h3M562 257.5h3M682 257.5h3M162 258.5h3M274 258.5h3M338 258.5h3M562 258.5h3M682 258.5h3M162 259.5h3M274 259.5h3M338 259.5h3M562 259.5h3M682 259.5h3M162 260.5h3M274 260.5h3M338 260.5h3M562 260.5h3M682 260.5h3M162 261.5h3M274 261.5h3M306 261.5h3M338 261.5h3M562 261.5h3M682 261.5h3M162 262.5h3M274 262.5h3M306 262.5h3M338 262.5h3M546 262.5h3M562 262.5h3M162 263.5h3M274 263.5h3M306 263.5h3M338 263.5h3M546 263.5h3M562 263.5h3M162 264.5h3M274 264.5h3M306 264.5h3M338 264.5h3M370 264.5h3M546 264.5h3M562 264.5h3M690 264.5h3M162 265.5h3M274 265.5h3M306 265.5h3M338 265.5h3M370 265.5h3M546 265.5h3M562 265.5h3M690 265.5h3M162 266.5h3M274 266.5h3M338 266.5h3M546 266.5h3M562 266.5h3M690 266.5h3M162 267.5h3M274 267.5h3M338 267.5h3M426 267.5h3M546 267.5h3M562 267.5h3M690 267.5h3M162 268.5h3M274 268.5h3M338 268.5h3M426 268.5h3M546 268.5h3M562 268.5h3M690 268.5h3M162 269.5h3M274 269.5h3M338 269.5h3M426 269.5h3M546 269.5h3M562 269.5h3M690 269.5h3M162 270.5h3M274 270.5h3M338 270.5h3M426 270.5h3M546 270.5h3M562 270.5h3M690 270.5h3M162 271.5h3M274 271.5h3M338 271.5h3M426 271.5h3M546 271.5h3M562 271.5h3M690 271.5h3M162 272.5h3M274 272.5h3M338 272.5h3M426 272.5h3M546 272.5h3M562 272.5h3M162 273.5h3M274 273.5h3M338 273.5h3M426 273.5h3M546 273.5h3M562 273.5h3M674 273.5h3M162 274.5h3M274 274.5h3M338 274.5h3M426 274.5h3M546 274.5h3M562 274.5h3M650 274.5h3M674 274.5h3M162 275.5h3M274 275.5h3M338 275.5h3M426 275.5h3M546 275.5h3M562 275.5h3M650 275.5h3M674 275.5h3M162 276.5h3M274 276.5h3M338 276.5h3M426 276.5h3M546 276.5h3M562 276.5h3M650 276.5h3M674 276.5h3M162 277.5h3M274 277.5h3M338 277.5h3M426 277.5h3M546 277.5h3M562 277.5h3M650 277.5h3M674 277.5h3M162 278.5h3M274 278.5h3M338 278.5h3M426 278.5h3M546 278.5h3M562 278.5h3M650 278.5h3M674 278.5h3M162 279.5h3M274 279.5h3M338 279.5h3M426 279.5h3M546 279.5h3M562 279.5h3M650 279.5h3M674 279.5h3M162 280.5h3M274 280.5h3M338 280.5h3M426 280.5h3M546 280.5h3M562 280.5h3M650 280.5h3M674 280.5h3M162 281.5h3M274 281.5h3M338 281.5h3M426 281.5h3M546 281.5h3M562 281.5h3M674 281.5h3M162 282.5h3M234 282.5h3M274 282.5h3M426 282.5h3M546 282.5h3M562 282.5h3M674 282.5h3M162 283.5h3M234 283.5h3M274 283.5h3M426 283.5h3M546 283.5h3M562 283.5h3M634 283.5h3M674 283.5h3M162 284.5h3M274 284.5h3M426 284.5h3M546 284.5h3M562 284.5h3M634 284.5h3M674 284.5h3M162 285.5h3M426 285.5h3M546 285.5h3M562 285.5h3M634 285.5h3M162 286.5h3M258 286.5h3M426 286.5h3M546 286.5h3M562 286.5h3M634 286.5h3M162 287.5h3M258 287.5h3M426 287.5h3M546 287.5h3M562 287.5h3M634 287.5h3M162 288.5h3M258 288.5h3M426 288.5h3M530 288.5h3M546 288.5h3M562 288.5h3M634 288.5h3M258 289.5h3M426 289.5h3M530 289.5h3M546 289.5h3M562 289.5h3M634 289.5h3M258 290.5h3M426 290.5h3M530 290.5h3M562 290.5h3M634 290.5h3M154 291.5h3M258 291.5h3M402 291.5h3M426 291.5h3M530 291.5h3M562 291.5h3M634 291.5h3M154 292.5h3M258 292.5h3M402 292.5h3M426 292.5h3M530 292.5h3M562 292.5h3M634 292.5h3M154 293.5h3M258 293.5h3M402 293.5h3M426 293.5h3M530 293.5h3M562 293.5h3M634 293.5h3M154 294.5h3M258 294.5h3M402 294.5h3M426 294.5h3M530 294.5h3M562 294.5h3M634 294.5h3M154 295.5h3M258 295.5h3M402 295.5h3M426 295.5h3M530 295.5h3M562 295.5h3M634 295.5h3M154 296.5h3M258 296.5h3M402 296.5h3M426 296.5h3M530 296.5h3M562 296.5h3M634 296.5h3M154 297.5h3M258 297.5h3M402 297.5h3M426 297.5h3M530 297.5h3M562 297.5h3M634 297.5h3M154 298.5h3M258 298.5h3M402 298.5h3M426 298.5h3M530 298.5h3M634 298.5h3M154 299.5h3M258 299.5h3M402 299.5h3M426 299.5h3M530 299.5h3M634 299.5h3M154 300.5h3M258 300.5h3M402 300.5h3M426 300.5h3M530 300.5h3M154 301.5h3M258 301.5h3M402 301.5h3M426 301.5h3M530 301.5h3M626 301.5h3M154 302.5h3M258 302.5h3M426 302.5h3M530 302.5h3M626 302.5h3M154 303.5h3M426 303.5h3M530 303.5h3M626 303.5h3M154 304.5h3M250 304.5h3M426 304.5h3M530 304.5h3M626 304.5h3M250 305.5h3M426 305.5h3M530 305.5h3M626 305.5h3M250 306.5h3M426 306.5h3M530 306.5h3M626 306.5h3M426 307.5h3M530 307.5h3M626 307.5h3M426 308.5h3M530 308.5h3M626 308.5h3M426 309.5h3M530 309.5h3M626 309.5h3M426 310.5h3M530 310.5h3M626 310.5h3M426 311.5h3M458 311.5h3M530 311.5h3M626 311.5h3M426 312.5h3M458 312.5h3M530 312.5h3M626 312.5h3M426 313.5h3M530 313.5h3M626 313.5h3M418 314.5h3M530 314.5h3M626 314.5h3M418 315.5h3M530 315.5h3M626 315.5h3M418 316.5h3M530 316.5h3M626 316.5h3M418 317.5h3M530 317.5h3M626 317.5h3M418 318.5h3M530 318.5h3M626 318.5h3M418 319.5h3M530 319.5h3M626 319.5h3M418 320.5h3M530 320.5h3M626 320.5h3M418 321.5h3M530 321.5h3M626 321.5h3M418 322.5h3M530 322.5h3M626 322.5h3M418 323.5h3M530 323.5h3M626 323.5h3M418 324.5h3M530 324.5h3M626 324.5h3M530 325.5h3M626 325.5h3M530 326.5h3M626 326.5h3M530 327.5h3M626 327.5h3M530 328.5h3M626 328.5h3M530 329.5h3M530 330.5h3M530 331.5h3M530 332.5h3M530 333.5h3M498 334.5h3M530 334.5h3M498 335.5h3M530 335.5h3M498 336.5h3M530 336.5h3M498 337.5h3M530 337.5h3M482 338.5h3M498 338.5h3M530 338.5h3M482 339.5h3M498 339.5h3M530 339.5h3M482 340.5h3M498 340.5h3M530 340.5h3M482 341.5h3M498 341.5h3M530 341.5h3M482 342.5h3M498 342.5h3M530 342.5h3M482 343.5h3M498 343.5h3M530 343.5h3M482 344.5h3M498 344.5h3M530 344.5h3M482 345.5h3M498 345.5h3M482 346.5h3M522 346.5h3M482 347.5h3M522 347.5h3M482 348.5h3M522 348.5h3M482 349.5h3M522 349.5h3M482 350.5h3M522 350.5h3M482 351.5h3M522 351.5h3M482 352.5h3M522 352.5h3M482 353.5h3M522 353.5h3M482 354.5h3M522 354.5h3M522 355.5h3M522 356.5h3M522 357.5h3M522 358.5h3M522 359.5h3M522 360.5h3M522 361.5h3M522 362.5h3M522 363.5h3M522 364.5h3M522 365.5h3M522 366.5h3M522 367.5h3M522 368.5h3M522 369.5h3M522 370.5h3" stroke="#000000" fill="none"/></g>
<g id="macd"><path d="M3.5 397v8M11.5 395v10M19.5 395v10M27.5 394v11M35.5 394v11M43.5 395v10M51.5 396v9M59.5 397v8M67.5 399v6M75.5 399v6M83.5 403v2M91.5 404v1M115.5 404v5M123.5 404v8M131.5 404v11M139.5 404v15M147.5 404v21M155.5 404v26M163.5 404v26M171.5 404v27M179.5 404v26M187.5 404v24M195.5 404v23M203.5 404v24M211.5 404v22M219.5 404v22M227.5 404v23M235.5 404v25M243.5 404v26M251.5 404v26M259.5 404v25M267.5 404v25M275.5 404v21M283.5 404v19M291.5 404v18M299.5 404v17M307.5 404v15M315.5 404v14M323.5 404v14M331.5 404v14M339.5 404v12M347.5 404v10M355.5 404v9M363.5 404v9M371.5 404v8M379.5 404v8M387.5 404v9M395.5 404v10M403.5 404v10M411.5 404v11M419.5 404v12M427.5 404v11M435.5 404v10M443.5 404v10M451.5 404v11M459.5 404v11M467.5 404v11M475.5 404v13M483.5 404v13M491.5 404v14M499.5 404v13M507.5 404v15M515.5 404v16M523.5 404v15M531.5 404v12M539.5 404v9M547.5 404v5M555.5 404v4M571.5 402v3M579.5 401v4M587.5 400v5M595.5 399v6M603.5 399v6M611.5 403v2M619.5 404v1M643.5 404v1M651.5 403v2M659.5 403v2M667.5 403v2M675.5 403v2M683.5 401v4M691.5 401v4M699.5 399v6" stroke="#32cd32" fill="none"/><path d="M50 395.5h30M48 396.5h2M80 396.5h8M45 397.5h3M88 397.5h16M3 398.5h42M104 398.5h5M109 399.5h3M112 400.5h2M114 401.5h4M616 401.5h48M696 401.5h4M118 402.5h4M610 402.5h6M664 402.5h32M122 403.5h4M606 403.5h4M126 404.5h4M602 404.5h4M130 405.5h4M598 405.5h4M134 406.5h4M594 406.5h4M138 407.5h3M590 407.5h4M141 408.5h3M586 408.5h4M144 409.5h2M582 409.5h4M146 410.5h3M578 410.5h4M149 411.5h2M574 411.5h4M151 412.5h2M570 412.5h4M153 413.5h2M400 413.5h16M566 413.5h4M155 414.5h2M384 414.5h16M416 414.5h40M562 414.5h4M157 415.5h3M376 415.5h8M456 415.5h32M558 415.5h4M160 416.5h2M368 416.5h8M488 416.5h24M552 416.5h6M162 417.5h4M360 417.5h8M512 417.5h8M536 417.5h16M166 418.5h4M352 418.5h8M520 418.5h16M170 419.5h3M344 419.5h8M173 420.5h3M336 420.5h8M176 421.5h2M328 421.5h8M178 422.5h4M320 422.5h8M182 423.5h4M314 423.5h6M186 424.5h4M310 424.5h4M190 425.5h4M304 425.5h6M194 426.5h6M296 426.5h8M200 427.5h8M240 427.5h8M280 427.5h16M208 428.5h32M248 428.5h32" stroke="#ff0000" fill="none"/></g>
<g id="stoch"><path d="M10 439.5h2M6 440.5h4M3 441.5h3M698 444.5h2M696 445.5h2M548 446.5h2M578 446.5h6M693 446.5h3M550 447.5h2M562 447.5h6M574 447.5h4M584 447.5h4M691 447.5h2M560 448.5h2M568 448.5h6M689 448.5h2M553 449.5h2M557 449.5h3M687 449.5h2M555 450.5h2M685 450.5h2M683 451.5h2M290 454.5h2M288 455.5h2M28 456.5h2M285 456.5h3M30 457.5h2M283 457.5h2M33 459.5h2M195 459.5h2M674 459.5h2M35 460.5h5M197 460.5h3M672 460.5h2M40 461.5h4M200 461.5h2M669 461.5h3M202 462.5h4M664 462.5h5M206 463.5h4M659 463.5h5M210 464.5h4M657 464.5h2M214 465.5h4M655 465.5h2M218 466.5h2M653 466.5h2M302 467.5h2M651 467.5h2M355 470.5h5M440 470.5h4M307 471.5h5M360 471.5h5M435 471.5h5M646 471.5h2M312 472.5h4M365 472.5h3M316 473.5h2M368 473.5h2M370 474.5h4M374 475.5h4M430 475.5h2M320 476.5h2M378 476.5h2M123 482.5h9M121 483.5h2M132 483.5h2M451 483.5h2M119 484.5h2M134 484.5h2M453 484.5h3M117 485.5h2M456 485.5h2M115 486.5h2M137 486.5h2M458 486.5h6M464 487.5h4M468 488.5h2M500 488.5h2M496 489.5h2M502 489.5h2M74 490.5h11M110 490.5h2M70 491.5h4M85 491.5h2M331 491.5h5M417 491.5h2M472 491.5h2M505 491.5h2M67 492.5h3M87 492.5h2M336 492.5h4M492 492.5h2M507 492.5h2M89 493.5h2M104 493.5h4M414 493.5h2M475 493.5h5M488 493.5h4M509 493.5h3M91 494.5h13M166 494.5h2M262 494.5h2M412 494.5h2M480 494.5h8M512 494.5h2M520 494.5h4M410 495.5h2M514 495.5h6M408 496.5h2M619 496.5h9M147 497.5h2M162 497.5h2M395 497.5h5M405 497.5h3M149 498.5h3M160 498.5h2M257 498.5h2M400 498.5h5M152 499.5h2M157 499.5h3M255 499.5h2M154 500.5h3M253 500.5h2M248 501.5h5M243 502.5h5M12.5 440v1M13.5 441v1M14.5 442v1M15.5 443v1M16.5 444v1M17.5 445v1M18.5 446v1M19.5 447v1M20.5 448v1M21.5 449v1M22.5 450v1M23.5 451v1M24.5 452v1M25.5 453v1M26.5 454v1M27.5 455v1M32.5 458v1M44.5 462v2M45.5 464v1M46.5 465v1M47.5 466v2M48.5 468v1M49.5 469v1M50.5 470v2M51.5 472v1M52.5 473v1M53.5 474v2M54.5 476v1M55.5 477v1M56.5 478v1M57.5 479v2M58.5 481v1M59.5 482v1M60.5 483v1M61.5 484v2M62.5 486v1M63.5 487v1M64.5 488v1M65.5 489v2M66.5 491v1M108.5 492v1M109.5 491v1M112.5 489v1M113.5 488v1M114.5 487v1M136.5 485v1M139.5 487v1M140.5 488v1M141.5 489v2M142.5 491v1M143.5 492v1M144.5 493v1M145.5 494v2M146.5 496v1M164.5 496v1M165.5 495v1M168.5 493v1M169.5 492v1M170.5 491v1M171.5 490v1M172.5 488v2M173.5 486v2M174.5 485v1M175.5 483v2M176.5 482v1M177.5 480v2M178.5 478v2M179.5 477v1M180.5 476v1M181.5 475v1M182.5 474v1M183.5 472v2M184.5 471v1M185.5 470v1M186.5 469v1M187.5 468v1M188.5 467v1M189.5 466v1M190.5 465v1M191.5 463v2M192.5 462v1M193.5 461v1M194.5 460v1M220.5 467v1M221.5 468v1M222.5 469v1M223.5 470v2M224.5 472v1M225.5 473v1M226.5 474v1M227.5 475v1M228.5 476v2M229.5 478v1M230.5 479v2M231.5 481v1M232.5 482v2M233.5 484v1M234.5 485v2M235.5 487v1M236.5 488v2M237.5 490v2M238.5 492v2M239.5 494v2M240.5 496v2M241.5 498v2M242.5 500v2M259.5 497v1M260.5 496v1M261.5 495v1M264.5 493v1M265.5 492v1M266.5 491v1M267.5 489v2M268.5 487v2M269.5 485v2M270.5 482v3M271.5 480v2M272.5 477v3M273.5 475v2M274.5 473v2M275.5 471v2M276.5 469v2M277.5 467v2M278.5 465v2M279.5 464v1M280.5 462v2M281.5 460v2M282.5 458v2M292.5 455v1M293.5 456v2M294.5 458v1M295.5 459v1M296.5 460v1M297.5 461v2M298.5 463v1M299.5 464v1M300.5 465v1M301.5 466v1M304.5 468v1M305.5 469v1M306.5 470v1M318.5 474v1M319.5 475v1M322.5 477v1M323.5 478v1M324.5 479v2M325.5 481v2M326.5 483v1M327.5 484v2M328.5 486v1M329.5 487v2M330.5 489v2M340.5 490v2M341.5 489v1M342.5 488v1M343.5 486v2M344.5 485v1M345.5 484v1M346.5 482v2M347.5 481v1M348.5 479v2M349.5 478v1M350.5 477v1M351.5 475v2M352.5 474v1M353.5 473v1M354.5 471v2M380.5 477v1M381.5 478v2M382.5 480v1M383.5 481v1M384.5 482v1M385.5 483v2M386.5 485v1M387.5 486v1M388.5 487v2M389.5 489v1M390.5 490v1M391.5 491v2M392.5 493v1M393.5 494v1M394.5 495v2M416.5 492v1M419.5 490v1M420.5 488v2M421.5 487v1M422.5 485v2M423.5 484v1M424.5 482v2M425.5 481v1M426.5 479v2M427.5 478v1M428.5 477v1M429.5 476v1M432.5 474v1M433.5 473v1M434.5 472v1M444.5 471v2M445.5 473v2M446.5 475v1M447.5 476v2M448.5 478v1M449.5 479v2M450.5 481v2M470.5 489v1M471.5 490v1M474.5 492v1M494.5 491v1M495.5 490v1M498.5 488v1M499.5 487v1M504.5 490v1M523.5 493v1M524.5 490v3M525.5 488v2M526.5 485v3M527.5 482v3M528.5 479v3M529.5 477v2M530.5 474v3M531.5 472v2M532.5 470v2M533.5 468v2M534.5 466v2M535.5 464v2M536.5 462v2M537.5 460v2M538.5 458v2M539.5 457v1M540.5 455v2M541.5 454v1M542.5 452v2M543.5 451v1M544.5 449v2M545.5 448v1M546.5 446v2M547.5 445v1M552.5 448v1M588.5 448v1M589.5 449v2M590.5 451v1M591.5 452v1M592.5 453v1M593.5 454v2M594.5 456v1M595.5 457v1M596.5 458v1M597.5 459v1M598.5 460v1M599.5 461v1M600.5 462v1M601.5 463v1M602.5 464v1M603.5 465v2M604.5 467v2M605.5 469v3M606.5 472v3M607.5 475v2M608.5 477v3M609.5 480v3M610.5 483v2M611.5 485v2M612.5 487v1M613.5 488v2M614.5 490v1M615.5 491v1M616.5 492v1M617.5 493v2M618.5 495v1M628.5 494v2M629.5 492v2M630.5 491v1M631.5 489v2M632.5 488v1M633.5 486v2M634.5 484v2M635.5 483v1M636.5 482v1M637.5 481v1M638.5 480v1M639.5 478v2M640.5 477v1M641.5 476v1M642.5 475v1M643.5 474v1M644.5 473v1M645.5 472v1M648.5 470v1M649.5 469v1M650.5 468v1M676.5 458v1M677.5 457v1M678.5 456v1M679.5 455v1M680.5 454v1M681.5 453v1M682.5 452v1" stroke="#32cd32" fill="none"/><path d="M18 443.5h3M14 444.5h4M21 444.5h3M11 445.5h3M24 445.5h2M9 446.5h2M26 446.5h2M562 447.5h6M576 447.5h13M6 448.5h2M560 448.5h2M568 448.5h8M589 448.5h3M4 449.5h2M557 449.5h3M592 449.5h2M555 450.5h2M594 450.5h2M697 450.5h2M596 451.5h2M695 451.5h2M598 452.5h2M693 452.5h2M691 453.5h2M35 454.5h2M601 454.5h2M689 454.5h2M37 455.5h2M39 456.5h2M686 456.5h2M41 457.5h2M684 457.5h2M682 458.5h2M44 459.5h2M298 459.5h3M680 459.5h2M294 460.5h4M301 460.5h2M677 460.5h3M291 461.5h3M303 461.5h2M674 461.5h3M48 462.5h2M208 462.5h6M305 462.5h2M672 462.5h2M202 463.5h6M214 463.5h4M669 463.5h3M200 464.5h2M218 464.5h2M308 464.5h2M667 464.5h2M197 465.5h3M220 465.5h2M665 465.5h2M195 466.5h2M663 466.5h2M312 467.5h2M661 467.5h2M224 468.5h2M659 468.5h2M315 469.5h2M317 470.5h2M319 471.5h2M321 472.5h2M370 472.5h6M366 473.5h4M376 473.5h4M363 474.5h3M380 474.5h2M443 474.5h5M382 475.5h2M448 475.5h4M440 476.5h2M452 476.5h2M385 477.5h2M454 477.5h2M358 478.5h2M436 479.5h2M457 479.5h2M460 481.5h2M332 482.5h2M462 482.5h2M68 483.5h2M131 483.5h9M129 484.5h2M140 484.5h2M465 484.5h2M127 485.5h2M142 485.5h2M336 485.5h2M350 485.5h2M467 485.5h2M72 486.5h2M125 486.5h2M469 486.5h2M123 487.5h2M145 487.5h2M339 487.5h5M471 487.5h2M75 488.5h3M121 488.5h2M344 488.5h4M395 488.5h2M473 488.5h2M529 488.5h2M640 488.5h2M78 489.5h4M119 489.5h2M148 489.5h2M397 489.5h2M475 489.5h2M82 490.5h6M117 490.5h2M399 490.5h2M477 490.5h3M526 490.5h2M88 491.5h6M114 491.5h3M401 491.5h2M480 491.5h2M504 491.5h16M524 491.5h2M636 491.5h2M94 492.5h4M112 492.5h2M152 492.5h2M174 492.5h2M422 492.5h2M482 492.5h4M498 492.5h6M520 492.5h4M632 492.5h4M98 493.5h6M109 493.5h3M404 493.5h2M486 493.5h4M494 493.5h4M627 493.5h5M104 494.5h5M155 494.5h2M406 494.5h2M490 494.5h4M157 495.5h2M170 495.5h2M418 495.5h2M159 496.5h2M168 496.5h2M409 496.5h2M414 496.5h4M161 497.5h2M165 497.5h3M265 497.5h2M411 497.5h3M163 498.5h2M251 498.5h3M263 498.5h2M254 499.5h4M261 499.5h2M258 500.5h3M3.5 450v1M8.5 447v1M28.5 447v1M29.5 448v1M30.5 449v1M31.5 450v1M32.5 451v1M33.5 452v1M34.5 453v1M43.5 458v1M46.5 460v1M47.5 461v1M50.5 463v1M51.5 464v1M52.5 465v1M53.5 466v1M54.5 467v1M55.5 468v1M56.5 469v1M57.5 470v1M58.5 471v1M59.5 472v1M60.5 473v1M61.5 474v2M62.5 476v1M63.5 477v1M64.5 478v1M65.5 479v2M66.5 481v1M67.5 482v1M70.5 484v1M71.5 485v1M74.5 487v1M144.5 486v1M147.5 488v1M150.5 490v1M151.5 491v1M154.5 493v1M172.5 494v1M173.5 493v1M176.5 491v1M177.5 490v1M178.5 489v1M179.5 488v1M180.5 486v2M181.5 485v1M182.5 483v2M183.5 482v1M184.5 480v2M185.5 479v1M186.5 477v2M187.5 476v1M188.5 475v1M189.5 473v2M190.5 472v1M191.5 471v1M192.5 470v1M193.5 468v2M194.5 467v1M222.5 466v1M223.5 467v1M226.5 469v1M227.5 470v1M228.5 471v1M229.5 472v1M230.5 473v1M231.5 474v1M232.5 475v1M233.5 476v1M234.5 477v1M235.5 478v1M236.5 479v2M237.5 481v1M238.5 482v2M239.5 484v1M240.5 485v2M241.5 487v1M242.5 488v2M243.5 490v1M244.5 491v1M245.5 492v1M246.5 493v1M247.5 494v1M248.5 495v1M249.5 496v1M250.5 497v1M267.5 496v1M268.5 495v1M269.5 493v2M270.5 492v1M271.5 491v1M272.5 490v1M273.5 488v2M274.5 487v1M275.5 486v1M276.5 484v2M277.5 482v2M278.5 480v2M279.5 479v1M280.5 477v2M281.5 475v2M282.5 473v2M283.5 472v1M284.5 470v2M285.5 469v1M286.5 468v1M287.5 466v2M288.5 465v1M289.5 464v1M290.5 462v2M307.5 463v1M310.5 465v1M311.5 466v1M314.5 468v1M323.5 473v1M324.5 474v1M325.5 475v1M326.5 476v1M327.5 477v1M328.5 478v1M329.5 479v1M330.5 480v1M331.5 481v1M334.5 483v1M335.5 484v1M338.5 486v1M348.5 487v1M349.5 486v1M352.5 484v1M353.5 483v1M354.5 482v1M355.5 481v1M356.5 480v1M357.5 479v1M360.5 477v1M361.5 476v1M362.5 475v1M384.5 476v1M387.5 478v1M388.5 479v1M389.5 480v2M390.5 482v1M391.5 483v1M392.5 484v1M393.5 485v2M394.5 487v1M403.5 492v1M408.5 495v1M420.5 494v1M421.5 493v1M424.5 491v1M425.5 490v1M426.5 489v1M427.5 488v1M428.5 487v1M429.5 486v1M430.5 485v1M431.5 484v1M432.5 483v1M433.5 482v1M434.5 481v1M435.5 480v1M438.5 478v1M439.5 477v1M442.5 475v1M456.5 478v1M459.5 480v1M464.5 483v1M528.5 489v1M531.5 487v1M532.5 486v1M533.5 484v2M534.5 483v1M535.5 482v1M536.5 481v1M537.5 479v2M538.5 478v1M539.5 476v2M540.5 474v2M541.5 472v2M542.5 469v3M543.5 467v2M544.5 464v3M545.5 462v2M546.5 460v2M547.5 458v2M548.5 457v1M549.5 456v1M550.5 455v1M551.5 454v1M552.5 453v1M553.5 452v1M554.5 451v1M600.5 453v1M603.5 455v1M604.5 456v2M605.5 458v2M606.5 460v1M607.5 461v2M608.5 463v1M609.5 464v2M610.5 466v2M611.5 468v1M612.5 469v2M613.5 471v2M614.5 473v2M615.5 475v1M616.5 476v2M617.5 478v2M618.5 480v2M619.5 482v1M620.5 483v2M621.5 485v1M622.5 486v1M623.5 487v2M624.5 489v1M625.5 490v1M626.5 491v2M638.5 490v1M639.5 489v1M642.5 487v1M643.5 486v1M644.5 485v1M645.5 484v1M646.5 483v1M647.5 481v2M648.5 480v1M649.5 479v1M650.5 478v1M651.5 477v1M652.5 476v1M653.5 475v1M654.5 474v1M655.5 472v2M656.5 471v1M657.5 470v1M658.5 469v1M688.5 455v1M699.5 449v1" stroke="#ff0000" fill="none"/></g>
<g id="rsi"><path d="M3 535.5h9M3 536.5h11M12 537.5h4M563 537.5h11M14 538.5h3M562 538.5h16M16 539.5h3M32 539.5h8M546 539.5h3M560 539.5h3M574 539.5h15M683 539.5h3M698 539.5h2M17 540.5h28M542 540.5h9M559 540.5h3M578 540.5h14M681 540.5h9M694 540.5h6M19 541.5h13M40 541.5h7M531 541.5h15M549 541.5h4M558 541.5h2M589 541.5h5M679 541.5h4M686 541.5h12M45 542.5h4M530 542.5h12M551 542.5h4M556 542.5h3M592 542.5h12M648 542.5h6M677 542.5h4M690 542.5h4M47 543.5h4M64 543.5h8M529 543.5h2M553 543.5h5M594 543.5h11M634 543.5h24M672 543.5h7M49 544.5h27M528 544.5h2M604 544.5h2M630 544.5h18M654 544.5h23M51 545.5h13M72 545.5h6M339 545.5h10M527 545.5h2M605 545.5h3M627 545.5h7M658 545.5h14M76 546.5h3M275 546.5h10M338 546.5h14M426 546.5h4M526 546.5h2M606 546.5h3M625 546.5h5M78 547.5h2M274 547.5h14M336 547.5h3M349 547.5h5M376 547.5h4M425 547.5h2M428 547.5h4M525 547.5h2M608 547.5h2M623 547.5h4M79 548.5h3M273 548.5h2M285 548.5h5M312 548.5h5M335 548.5h3M352 548.5h30M424 548.5h2M430 548.5h3M524 548.5h2M609 548.5h2M621 548.5h4M80 549.5h3M104 549.5h4M272 549.5h2M288 549.5h32M334 549.5h2M354 549.5h22M380 549.5h3M423 549.5h2M432 549.5h3M523 549.5h2M610 549.5h13M82 550.5h27M179 550.5h10M270 550.5h3M290 550.5h22M317 550.5h5M332 550.5h3M382 550.5h2M433 550.5h31M522 550.5h2M611 550.5h10M83 551.5h21M108 551.5h2M177 551.5h15M269 551.5h3M320 551.5h14M383 551.5h3M422 551.5h2M435 551.5h33M498 551.5h3M520 551.5h3M109 552.5h3M176 552.5h3M189 552.5h5M268 552.5h2M322 552.5h10M384 552.5h3M400 552.5h5M421 552.5h2M464 552.5h6M494 552.5h9M519 552.5h3M110 553.5h3M174 553.5h3M192 553.5h29M264 553.5h5M386 553.5h22M420 553.5h2M468 553.5h4M482 553.5h16M501 553.5h4M518 553.5h2M112 554.5h2M172 554.5h4M194 554.5h30M259 554.5h9M387 554.5h13M405 554.5h5M416 554.5h5M470 554.5h3M480 554.5h14M503 554.5h4M516 554.5h3M113 555.5h2M163 555.5h11M221 555.5h5M257 555.5h7M408 555.5h12M472 555.5h3M477 555.5h5M505 555.5h13M114 556.5h11M162 556.5h10M224 556.5h14M255 556.5h4M410 556.5h6M473 556.5h7M507 556.5h9M115 557.5h12M161 557.5h2M226 557.5h16M253 557.5h4M475 557.5h2M125 558.5h4M160 558.5h2M238 558.5h17M127 559.5h4M159 559.5h2M242 559.5h11M129 560.5h11M158 560.5h2M131 561.5h11M157 561.5h2M140 562.5h4M156 562.5h2M142 563.5h3M154 563.5h3M144 564.5h3M150 564.5h6M145 565.5h9M147 566.5h3M423.5 550v1M427.5 545v1M555.5 544v1" stroke="#32cd32" fill="none"/></g>
<g id="frame"><path d="M2 2.5h751M752 22.5h3M752 55.5h3M752 88.5h3M752 121.5h3M752 154.5h3M752 187.5h3M752 220.5h3M752 253.5h3M752 286.5h3M752 319.5h3M752 352.5h3M752 385.5h3M2 388.5h751M2 390.5h751M752 392.5h2M752 404.5h2M752 432.5h2M2 433.5h751M2 435.5h751M752 437.5h2M752 507.5h2M2 508.5h751M2 510.5h751M752 512.5h2M752 578.5h2M2 579.5h751M2.5 3v385M2.5 391v42M2.5 436v72M2.5 511v68M3.5 580v3M67.5 580v3M131.5 580v3M195.5 580v3M259.5 580v3M323.5 580v3M387.5 580v3M451.5 580v3M515.5 580v3M579.5 580v3M643.5 580v3M752.5 3v19M752.5 23v32M752.5 56v32M752.5 89v32M752.5 122v32M752.5 155v32M752.5 188v32M752.5 221v32M752.5 254v32M752.5 287v32M752.5 320v32M752.5 353v32M752.5 386v2M752.5 391v1M752.5 393v11M752.5 405v27M752.5 436v1M752.5 438v69M752.5 511v1M752.5 513v65" stroke="#000000" fill="none"/></g>
<g id="hlines-end"><path d="M752.5 224v2M752.5 256v2" stroke="#00ffff" fill="none"/></g>
<defs><filter id="crisp" x="0" y="0" width="800" height="600" filterUnits="userSpaceOnUse" color-interpolation-filters="sRGB"><feComponentTransfer><feFuncA type="discrete" tableValues="0 0 0 0 1 1 1 1 1 1"/></feComponentTransfer></filter><filter id="crispw" x="0" y="0" width="800" height="600" filterUnits="userSpaceOnUse" color-interpolation-filters="sRGB"><feComponentTransfer><feFuncA type="discrete" tableValues="0 0 0 0 0 0 1 1 1 1 1 1"/></feComponentTransfer></filter></defs>
<path d="M6 9h7v1h-1v1h-1v1h-1v1h-1v-1h-1v-1h-1v-1h-1z" fill="#000" stroke="none"/>
<g id="t-header" filter="url(#crisp)"><text x="17.25 23.25 30.5 37.5 44.25 50.5 57.25 60.5 68.5 73.5 78.5 81.5 86.5 88.5 93.5 96.5 99.5 104.5 109.5 114.5 119.5 122.25 127.5 132.5 137.5 140.5 145.5 150.5 155.5 160.5 163.5 168.5 173.5 178.5 181.5 186.5 191.5 196.25 201.5 204.5 209.5 214.5 219.5 222.5 227.5 232.5 237.5 242.5 245.5 250.5 255.5" y="14" xml:space="preserve">XAUUSD,Monthly  1321.600 1339.800 1316.100 1333.500</text></g>
<g id="t-indicators" filter="url(#crisp)"><text x="6.5 14.25 21.5 29.5 36.5 39.5 44.5 49.25 52.5 57.25 62.25 65.5 70.5 73.5 76.5 81.5 86.5 89.5 94.5 99.5 104.5 109.5 112.5 117.5 120.5 125.5 130.5 135.5" y="403" xml:space="preserve">MACD(12,26,9) 19.2714 8.8514</text><text x="6.25 12.5 15.5 20.5 24.5 29.5 32.5 37.25 40.5 45.25 48.5 53.5 56.5 59.5 64.5 69.5 72.5 77.5 82.5 87.5 92.5 95.5 100.5 105.5 108.5 113.5 118.5 123.5" y="448" xml:space="preserve">Stoch(8,3,3) 89.2122 84.1215</text><text x="6.5 13.25 19.5 22.5 25.5 30.5 35.5 38.5 41.5 46.5 51.5 54.5 59.5 64.5 69.5" y="523" xml:space="preserve">RSI(13) 58.8282</text></g>
<g id="t-dates" filter="url(#crisp)"><text x="1.5 6.5 9.25 15.5 20.5 25.5 28.5 33.5 38.5 43.5" y="592" xml:space="preserve">1 Sep 2012</text><text x="65.5 70.5 73.5 77.5 82.5 87.5 90.5 95.5 100.5 105.5" y="592" xml:space="preserve">1 Jan 2013</text><text x="129.5 134.5 137.5 145.5 150.5 155.5 158.5 163.5 168.5 173.5" y="592" xml:space="preserve">1 May 2013</text><text x="193.5 198.5 201.25 207.5 212.5 217.5 220.5 225.5 230.5 235.5" y="592" xml:space="preserve">1 Sep 2013</text><text x="257.5 262.5 265.5 269.5 274.5 279.5 282.5 287.5 292.5 297.5" y="592" xml:space="preserve">1 Jan 2014</text><text x="321.5 326.5 329.5 337.5 342.5 347.5 350.5 355.5 360.5 365.5" y="592" xml:space="preserve">1 May 2014</text><text x="385.5 390.5 393.25 399.5 404.5 409.5 412.5 417.5 422.5 427.5" y="592" xml:space="preserve">1 Sep 2014</text><text x="449.5 454.5 457.25 464.5 469.5 472.5 475.5 480.5 485.5 490.5" y="592" xml:space="preserve">1 Apr 2015</text><text x="513.5 518.5 521.5 528.5 533.5 537.5 540.5 545.5 550.5 555.5" y="592" xml:space="preserve">1 Dec 2015</text><text x="577.5 582.5 585.25 592.5 597.5 602.5 605.5 610.5 615.5 620.25" y="592" xml:space="preserve">1 Aug 2016</text><text x="641.5 646.5 651.5 654.5 662.5 667.5 670.5 673.5 678.5 683.5 688.5" y="592" xml:space="preserve">31 Mar 2017</text></g>
<g id="t-price-axis" filter="url(#crisp)"><text x="757.5 762.5 767.5 772.5 777.5 780.5 785.5 790.5" y="26" xml:space="preserve">1794.840</text><text x="757.5 762.5 767.5 772.25 777.5 780.5 785.5 790.5" y="59" xml:space="preserve">1726.035</text><text x="757.5 762.25 767.5 772.5 777.5 780.5 785.5 790.5" y="92" xml:space="preserve">1655.145</text><text x="757.5 762.5 767.5 772.25 777.5 780.5 785.5 790.5" y="125" xml:space="preserve">1586.340</text><text x="757.5 762.5 767.5 772.5 777.5 780.5 785.5 790.5" y="158" xml:space="preserve">1517.535</text><text x="757.5 762.5 767.5 772.5 777.5 780.5 785.5 790.5" y="191" xml:space="preserve">1448.730</text><text x="757.5 762.5 767.5 772.5 777.5 780.5 785.5 790.5" y="223" xml:space="preserve">1379.925</text><text x="757.5 762.5 767.5 772.5 777.5 780.5 785.5 790.5" y="256" xml:space="preserve">1309.035</text><text x="757.5 762.5 767.5 772.5 777.5 780.5 785.5 790.5" y="290" xml:space="preserve">1240.230</text><text x="757.5 762.5 767.5 772.5 777.5 780.5 785.5 790.5" y="323" xml:space="preserve">1171.425</text><text x="757.5 762.5 767.5 772.5 777.5 780.25 785.5 790.5" y="356" xml:space="preserve">1102.620</text><text x="757.5 762.5 767.5 772.5 777.5 780.5 785.5 790.5" y="389" xml:space="preserve">1033.815</text></g>
<g id="t-pane-axis" filter="url(#crisp)"><text x="755.5 760.5 765.5 768.5 773.25 778.5 783.5" y="401" xml:space="preserve">42.9642</text><text x="755.5 760.5 763.5 768.5" y="408" xml:space="preserve">0.00</text><text x="754.5" y="408" xml:space="preserve">0</text><text x="755.5 758.5 763.5 768.5 771.5 776.5 781.25 786.5" y="430" xml:space="preserve">-99.9062</text><text x="755.5 760.5 765.5" y="446" xml:space="preserve">100</text><text x="755.5 760.5" y="455" xml:space="preserve">80</text><text x="755.5 760.5" y="497" xml:space="preserve">20</text><text x="755.5" y="505" xml:space="preserve">0</text><text x="755.5 760.5 765.5" y="521" xml:space="preserve">100</text><text x="755.5 760.5" y="536" xml:space="preserve">70</text><text x="755.5 760.5" y="562" xml:space="preserve">30</text><text x="755.5" y="576" xml:space="preserve">0</text></g>
<g id="price-tags"><rect x="755" y="219" width="44" height="11" fill="#00ffff"/><rect x="755" y="237" width="44" height="11" fill="#000000"/><rect x="755" y="251" width="44" height="11" fill="#00ffff"/><g filter="url(#crispw)"><text x="757.5 762.5 767.25 772.5 777.5 780.5 785.5 790.5" y="228" class="w" xml:space="preserve">1368.395</text><text x="757.5 762.5 767.5 772.5 777.5 780.5 785.5 790.5" y="246" class="w" xml:space="preserve">1333.500</text><text x="757.5 762.5 767.5 772.5 777.5 780.25 785.5 790.5" y="260" class="w" xml:space="preserve">1301.658</text></g></g>
</svg>
</body></html>
